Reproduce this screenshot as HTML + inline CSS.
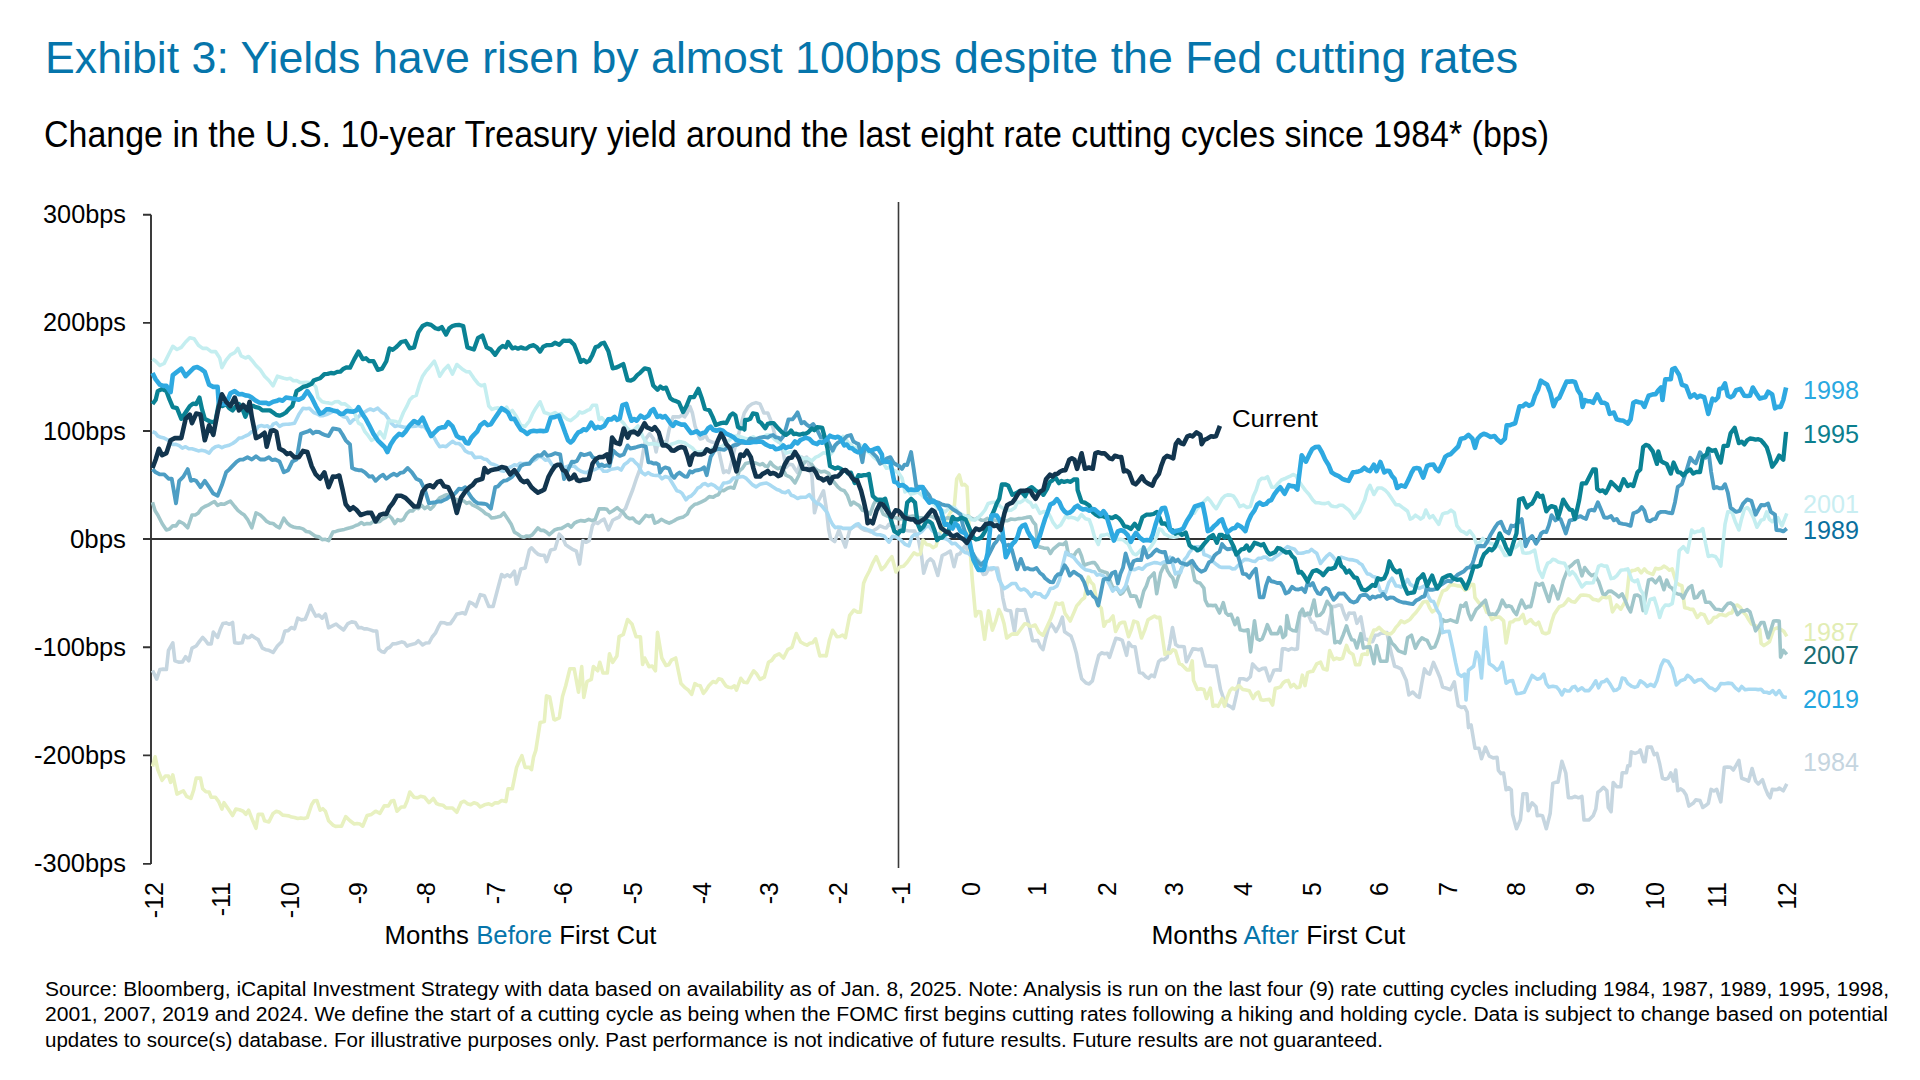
<!DOCTYPE html>
<html><head><meta charset="utf-8">
<style>
html,body{margin:0;padding:0;background:#fff;}
body{width:1920px;height:1080px;overflow:hidden;}
svg{display:block;}
text{font-family:"Liberation Sans",sans-serif;}
</style></head>
<body>
<svg width="1920" height="1080" viewBox="0 0 1920 1080">
<rect width="1920" height="1080" fill="#fff"/>
<text x="45" y="73" font-size="44.5" fill="#0675ab" textLength="1473" lengthAdjust="spacingAndGlyphs">Exhibit 3: Yields have risen by almost 100bps despite the Fed cutting rates</text>
<text x="44" y="147" font-size="37" fill="#000" textLength="1505" lengthAdjust="spacingAndGlyphs">Change in the U.S. 10-year Treasury yield around the last eight rate cutting cycles since 1984* (bps)</text>
<g font-size="25" fill="#000" text-anchor="end">
<text x="126" y="223" textLength="83" lengthAdjust="spacingAndGlyphs">300bps</text>
<text x="126" y="331" textLength="83" lengthAdjust="spacingAndGlyphs">200bps</text>
<text x="126" y="439.5" textLength="83" lengthAdjust="spacingAndGlyphs">100bps</text>
<text x="126" y="547.5" textLength="56" lengthAdjust="spacingAndGlyphs">0bps</text>
<text x="126" y="655.5" textLength="92" lengthAdjust="spacingAndGlyphs">-100bps</text>
<text x="126" y="764" textLength="92" lengthAdjust="spacingAndGlyphs">-200bps</text>
<text x="126" y="872" textLength="92" lengthAdjust="spacingAndGlyphs">-300bps</text>
</g>
<g stroke="#333" stroke-width="1.9" fill="none">
<path d="M151 214.8 V863.9 M143 214.8 H151 M143 322.9 H151 M143 431 H151 M143 647.2 H151 M143 755.4 H151 M143 863.9 H151"/>
<path d="M143 539 H1787"/>
<path d="M898.5 202 V868" stroke-width="1.6" stroke="#3a3a3a"/>
</g>
<path d="M152.5 670.5 L156.7 679.1 L159.9 669.5 L163.2 669.1 L166.4 669.5 L168.5 650.3 L172.8 642.8 L174.9 660.9 L178.6 662.1 L182.4 662.0 L185.6 656.7 L188.8 660.9 L192.0 648.1 L196.2 646.0 L199.5 641.4 L202.7 637.4 L205.3 640.2 L208.0 643.9 L211.2 643.9 L213.3 632.1 L217.6 637.4 L220.3 629.3 L222.9 623.6 L226.1 622.9 L229.3 624.3 L232.6 622.5 L234.7 642.8 L238.4 643.3 L242.2 642.8 L244.3 635.3 L247.0 637.7 L249.6 637.4 L251.8 635.3 L255.0 637.8 L258.2 639.6 L262.4 648.1 L265.7 649.7 L268.9 650.3 L273.1 652.4 L277.4 646.0 L281.7 641.7 L284.9 631.0 L288.1 630.6 L291.3 627.5 L294.5 628.9 L297.7 618.2 L301.4 619.9 L305.2 619.3 L307.8 613.0 L310.5 605.4 L313.2 611.4 L315.8 616.1 L319.0 615.0 L322.2 618.2 L325.4 614.0 L328.6 627.8 L332.9 625.7 L336.1 624.0 L339.3 626.8 L343.6 630.0 L347.9 623.6 L351.6 621.9 L355.3 622.5 L358.5 627.8 L361.4 627.6 L364.2 628.9 L367.1 628.9 L370.3 629.9 L373.5 631.0 L376.7 631.0 L378.8 649.2 L381.5 651.5 L384.2 652.4 L387.0 648.7 L389.9 647.1 L392.7 643.9 L395.9 643.8 L399.1 642.8 L401.8 641.9 L404.5 642.8 L407.1 646.1 L409.8 644.9 L412.6 644.2 L415.5 643.6 L418.3 640.7 L422.6 644.9 L425.8 643.0 L429.0 642.8 L432.2 637.0 L435.4 633.2 L438.1 627.4 L440.8 622.5 L444.0 622.7 L447.2 624.0 L450.4 623.6 L453.6 619.1 L456.8 614.0 L459.6 613.4 L462.5 612.7 L465.3 614.0 L469.6 602.2 L472.8 603.7 L476.0 606.5 L480.3 594.7 L484.5 595.8 L488.8 606.5 L493.1 606.5 L497.3 590.5 L501.6 574.5 L504.5 576.8 L507.3 574.8 L510.2 576.6 L514.4 571.2 L516.6 584.1 L520.8 569.1 L525.1 568.0 L529.4 549.9 L531.5 547.8 L534.7 551.3 L537.9 554.2 L541.1 555.3 L544.3 555.2 L546.5 561.6 L550.7 549.9 L555.0 549.1 L559.3 534.2 L562.5 537.6 L565.7 544.8 L568.9 547.0 L572.1 549.1 L576.4 551.2 L579.6 564.1 L582.8 540.6 L586.0 542.3 L589.2 540.6 L592.4 525.6 L595.0 521.9 L597.7 523.5 L600.9 520.9 L604.1 519.2 L608.4 529.9 L612.7 520.3 L615.9 518.5 L619.1 517.1 L622.3 511.8 L625.5 508.5 L628.7 500.0 L632.8 489.5 L636.7 477.8 L640.6 467.4 L643.2 451.9 L645.8 438.9 L649.7 433.7 L653.5 438.9 L656.1 451.9 L658.7 438.9 L662.6 441.5 L666.5 442.8 L669.1 429.8 L673.0 416.9 L676.2 416.8 L679.5 416.9 L682.1 415.0 L684.7 416.9 L687.3 412.7 L689.9 406.5 L692.4 413.0 L695.0 425.9 L697.6 433.3 L700.2 438.9 L702.8 438.2 L705.4 435.0 L708.0 440.1 L710.6 441.5 L713.8 442.6 L717.1 442.8 L720.3 457.9 L723.6 472.6 L726.2 470.9 L728.8 472.6 L731.3 463.0 L733.9 451.9 L736.5 441.3 L739.1 432.4 L741.7 422.1 L744.3 413.0 L748.2 406.8 L752.1 403.9 L756.0 402.6 L760.0 403.9 L763.9 413.0 L767.8 413.0 L770.4 419.4 L773.0 427.8 L775.6 437.6 L778.2 441.9 L780.7 442.8 L783.3 452.5 L785.9 467.4 L789.2 464.2 L792.4 464.8 L795.0 469.0 L797.6 472.6 L801.5 457.1 L804.1 458.9 L806.7 457.1 L809.3 466.9 L811.9 475.2 L814.5 512.8 L817.1 503.2 L819.6 498.5 L823.5 490.8 L826.1 506.9 L828.7 529.7 L830.5 538.4 L834.7 541.6 L839.0 529.9 L842.2 538.9 L845.4 547.0 L849.7 529.9 L852.5 527.5 L855.4 525.6 L858.2 525.6 L861.4 528.5 L864.6 530.3 L867.8 530.6 L871.0 532.0 L874.0 530.3 L877.0 528.5 L880.0 525.9 L883.7 527.4 L886.3 528.0 L888.9 524.4 L892.1 526.1 L895.4 526.8 L898.6 527.7 L901.8 525.7 L905.1 530.3 L908.3 530.7 L911.6 531.0 L914.8 531.1 L918.5 540.0 L921.5 555.5 L923.7 573.3 L927.4 561.5 L930.4 558.9 L933.3 561.5 L937.8 575.5 L942.2 555.5 L946.6 553.3 L950.3 551.1 L954.0 566.7 L957.0 554.8 L960.0 553.7 L962.6 549.0 L965.2 545.9 L968.2 551.8 L971.2 553.1 L974.3 560.0 L977.3 566.3 L980.3 568.0 L983.3 574.5 L985.9 574.0 L988.5 569.3 L991.6 569.6 L994.6 568.2 L997.6 568.0 L1001.5 587.4 L1002.8 597.8 L1005.4 609.5 L1008.0 610.5 L1010.6 610.8 L1014.5 631.5 L1017.1 609.5 L1020.9 610.3 L1024.8 609.5 L1028.7 623.7 L1032.6 640.6 L1035.2 640.7 L1037.8 640.6 L1040.4 646.6 L1043.0 649.7 L1045.6 638.4 L1048.2 628.9 L1050.8 623.7 L1053.4 627.1 L1056.0 631.5 L1059.2 625.7 L1062.4 617.2 L1064.6 631.8 L1067.8 634.0 L1071.0 636.1 L1073.7 643.5 L1076.4 653.2 L1079.0 667.2 L1081.7 678.8 L1086.0 683.1 L1089.2 683.9 L1092.4 680.9 L1095.6 667.5 L1098.8 655.3 L1101.6 652.8 L1104.5 653.7 L1107.3 653.2 L1109.5 657.4 L1112.7 647.6 L1115.9 638.2 L1119.1 638.9 L1122.3 640.4 L1126.6 655.3 L1128.7 642.5 L1131.9 646.5 L1135.1 646.8 L1139.4 672.4 L1142.6 673.2 L1145.8 676.7 L1148.6 678.3 L1151.5 675.0 L1154.3 676.7 L1158.6 661.7 L1161.4 659.3 L1164.3 659.7 L1167.1 657.4 L1169.8 644.0 L1172.5 627.6 L1175.7 644.6 L1178.5 646.5 L1181.4 646.5 L1184.2 646.8 L1186.4 661.7 L1189.6 655.5 L1192.8 648.9 L1195.6 649.1 L1198.5 649.7 L1201.3 648.9 L1205.6 666.0 L1209.1 665.8 L1212.7 666.4 L1216.2 666.0 L1220.5 689.5 L1224.8 702.3 L1227.6 705.2 L1230.5 706.6 L1233.3 708.7 L1236.5 694.7 L1239.7 678.8 L1243.3 678.8 L1246.9 680.0 L1250.4 676.7 L1252.6 663.9 L1255.8 667.5 L1259.0 670.3 L1262.2 668.6 L1265.4 668.1 L1269.6 680.9 L1273.9 670.3 L1277.1 669.8 L1280.3 670.3 L1282.4 648.9 L1285.4 648.9 L1288.4 650.1 L1291.4 648.5 L1294.4 649.4 L1297.4 648.9 L1299.9 613.0 L1303.7 615.4 L1307.6 613.0 L1311.5 622.0 L1314.1 622.6 L1316.7 629.8 L1320.2 629.7 L1323.6 632.7 L1327.1 633.7 L1329.7 620.6 L1332.3 606.5 L1335.3 606.4 L1338.3 605.1 L1341.3 605.2 L1343.9 613.2 L1346.5 619.4 L1349.1 613.0 L1351.7 613.3 L1354.3 613.0 L1356.9 623.3 L1360.8 616.9 L1364.7 638.9 L1367.3 639.6 L1370.0 641.7 L1372.6 641.6 L1375.2 635.2 L1378.1 635.0 L1381.0 633.2 L1383.9 633.1 L1386.9 632.6 L1390.7 650.8 L1394.6 666.3 L1397.9 667.3 L1401.1 668.9 L1403.7 674.7 L1406.3 680.6 L1408.9 694.9 L1412.8 692.0 L1416.7 696.1 L1419.3 697.4 L1421.9 682.5 L1424.5 668.9 L1427.1 672.8 L1429.6 674.1 L1433.5 662.4 L1437.4 671.5 L1440.0 677.8 L1442.6 687.1 L1446.5 688.3 L1450.4 689.7 L1454.3 681.9 L1455.6 690.0 L1458.2 705.6 L1461.4 707.4 L1464.7 706.9 L1467.2 712.0 L1468.5 727.6 L1471.1 725.0 L1475.0 748.3 L1478.9 748.3 L1481.5 758.7 L1485.4 747.1 L1489.3 756.1 L1493.2 757.9 L1497.1 757.4 L1498.4 770.4 L1501.0 773.6 L1503.6 773.0 L1506.1 789.8 L1508.7 787.6 L1511.3 789.8 L1512.6 814.5 L1516.5 828.7 L1520.4 819.7 L1523.0 793.7 L1526.9 793.7 L1528.2 810.6 L1532.1 802.8 L1536.0 806.7 L1537.3 815.8 L1539.9 815.3 L1542.5 815.8 L1546.3 828.7 L1550.2 813.2 L1552.8 783.4 L1555.4 782.3 L1558.0 782.1 L1561.9 761.3 L1565.8 773.0 L1568.4 797.6 L1571.7 797.8 L1575.0 796.4 L1578.5 797.8 L1581.9 796.4 L1584.0 820.0 L1588.9 820.0 L1593.1 815.8 L1595.8 808.9 L1597.9 792.2 L1600.0 790.8 L1603.5 787.3 L1606.9 790.8 L1608.3 807.5 L1611.1 811.7 L1613.2 782.5 L1616.7 786.7 L1620.8 786.7 L1622.2 772.8 L1626.4 772.8 L1627.8 765.8 L1629.9 765.8 L1631.2 751.9 L1635.1 753.4 L1638.9 751.9 L1640.3 749.9 L1643.8 761.7 L1645.1 761.7 L1647.2 747.1 L1651.4 747.1 L1654.2 754.7 L1656.9 753.3 L1659.7 764.0 L1662.5 778.3 L1665.3 779.2 L1668.1 778.3 L1670.8 772.8 L1673.6 781.1 L1675.7 770.0 L1677.8 790.8 L1680.6 788.9 L1683.3 790.8 L1686.1 795.0 L1688.9 806.1 L1693.1 803.3 L1695.8 799.9 L1700.0 800.6 L1702.8 807.5 L1705.6 805.6 L1708.3 803.3 L1711.1 789.4 L1713.9 791.0 L1716.7 789.4 L1720.8 801.9 L1724.3 767.2 L1727.4 767.0 L1730.6 767.2 L1733.3 770.0 L1736.1 765.4 L1738.9 760.3 L1741.7 778.3 L1745.8 779.7 L1748.6 781.1 L1752.1 768.6 L1755.6 781.1 L1758.3 783.9 L1762.5 779.7 L1765.3 788.4 L1768.1 795.0 L1770.1 797.8 L1772.2 789.4 L1775.0 789.6 L1777.8 789.4 L1779.2 788.1 L1783.3 790.8 L1786.8 783.9" fill="none" stroke="#c6d6e0" stroke-width="3.6" stroke-linejoin="round" stroke-linecap="butt"/>
<path d="M152.5 766.4 L155.2 756.8 L157.8 769.6 L162.1 780.3 L165.3 776.0 L168.5 776.0 L170.6 782.4 L172.8 774.9 L177.0 794.1 L180.2 792.4 L183.4 790.9 L186.6 796.3 L190.9 798.4 L193.6 790.3 L196.2 778.1 L200.5 778.1 L202.7 788.8 L205.9 791.8 L209.1 792.0 L211.2 797.3 L215.5 797.3 L218.7 801.6 L221.9 809.1 L224.0 802.7 L228.3 809.1 L232.6 815.5 L235.8 809.1 L239.5 809.8 L243.2 811.2 L245.9 814.3 L248.6 810.2 L252.8 820.8 L256.0 828.3 L258.2 814.4 L262.4 814.4 L264.6 820.8 L268.9 821.9 L273.1 813.4 L276.3 811.3 L279.5 812.3 L282.7 815.1 L285.9 815.5 L288.8 815.9 L291.6 817.1 L294.5 817.6 L297.7 818.5 L300.9 817.9 L304.1 818.5 L307.3 817.6 L311.6 804.8 L314.2 800.7 L316.9 800.5 L320.1 810.2 L322.8 808.7 L325.4 811.2 L328.6 820.8 L332.9 825.1 L335.6 826.4 L338.3 826.2 L341.5 826.2 L345.7 816.6 L350.0 820.8 L354.3 824.0 L357.1 823.5 L360.0 824.1 L362.8 826.2 L367.1 815.5 L371.4 814.4 L375.6 811.2 L379.9 813.4 L384.2 805.9 L388.4 805.9 L391.1 801.3 L393.8 800.5 L397.0 811.2 L401.2 807.0 L404.5 807.0 L407.1 801.1 L409.8 792.0 L414.1 797.3 L417.3 797.8 L420.5 796.3 L424.7 797.3 L429.0 802.7 L433.3 798.4 L436.5 803.5 L439.7 804.8 L442.9 805.2 L446.1 808.0 L449.3 808.0 L452.5 808.0 L456.8 812.3 L461.0 802.7 L464.2 801.2 L467.4 803.7 L470.7 804.7 L473.9 802.7 L477.1 803.7 L480.3 807.0 L484.5 804.8 L488.8 803.8 L492.0 805.2 L495.2 802.7 L498.4 802.9 L501.6 800.5 L505.9 801.6 L508.0 788.8 L512.3 788.8 L516.6 767.4 L519.2 761.3 L521.9 755.7 L525.1 767.4 L529.4 767.4 L531.5 769.6 L533.6 756.8 L535.8 750.4 L540.1 722.6 L544.3 721.5 L546.5 695.9 L549.7 697.0 L553.9 719.4 L555.0 719.9 L559.3 717.8 L562.5 696.5 L565.7 685.8 L569.9 668.7 L574.2 668.7 L578.5 692.2 L581.7 666.6 L583.8 697.5 L587.0 681.5 L591.3 679.4 L593.4 666.6 L597.7 670.8 L599.8 662.3 L603.0 673.0 L607.3 673.0 L609.5 653.8 L612.7 662.3 L616.9 655.9 L619.1 636.7 L623.3 634.5 L627.6 619.6 L631.9 623.9 L636.1 636.7 L640.4 636.7 L642.6 664.4 L644.7 658.0 L649.0 666.6 L652.2 666.1 L655.4 670.8 L657.5 632.4 L661.8 658.0 L666.0 665.5 L668.7 664.7 L671.4 660.2 L675.7 658.0 L678.3 670.7 L681.0 683.6 L685.3 687.9 L688.5 690.3 L691.7 694.3 L694.9 683.6 L697.5 685.2 L700.2 685.8 L703.4 693.3 L706.1 690.1 L708.8 685.8 L713.0 681.5 L715.9 682.7 L718.7 678.8 L721.6 679.4 L725.8 685.8 L728.7 687.3 L731.5 687.7 L734.4 685.8 L736.5 690.1 L740.8 678.3 L744.0 682.3 L747.2 682.6 L750.4 676.5 L753.6 670.8 L756.8 674.1 L760.0 679.4 L764.3 677.2 L768.5 662.3 L771.7 660.4 L774.9 655.9 L779.2 653.8 L783.5 658.0 L787.8 649.5 L792.0 647.3 L796.3 633.5 L800.6 642.0 L803.8 643.8 L807.0 645.2 L809.8 643.2 L812.7 642.8 L815.5 638.8 L819.8 655.9 L823.0 655.5 L826.2 655.9 L829.4 640.1 L832.6 630.3 L836.9 636.7 L839.7 636.5 L842.6 635.0 L845.4 637.7 L849.7 615.3 L854.0 610.0 L857.2 612.1 L860.4 612.1 L863.6 583.3 L866.0 577.5 L869.4 571.0 L872.9 562.8 L876.3 556.7 L878.9 563.2 L881.5 569.7 L885.0 566.4 L888.4 561.1 L891.9 556.7 L896.0 572.0 L899.7 567.0 L903.5 566.2 L907.4 562.0 L910.7 557.3 L914.0 552.8 L917.2 554.8 L920.4 554.0 L923.0 540.0 L926.5 544.4 L930.0 545.0 L933.0 547.6 L936.0 546.0 L938.5 537.1 L941.0 530.0 L944.4 525.0 L947.7 517.8 L950.9 511.5 L954.0 510.0 L956.7 479.0 L959.3 475.0 L962.0 485.0 L964.5 484.4 L967.0 486.7 L968.4 512.6 L969.7 543.8 L972.3 580.0 L975.6 616.0 L978.2 611.5 L980.7 612.1 L984.6 639.3 L988.5 610.8 L992.4 630.2 L995.7 621.2 L998.9 609.5 L1001.5 615.0 L1004.1 623.7 L1006.7 638.0 L1009.3 636.0 L1011.9 634.1 L1014.5 633.9 L1017.1 634.1 L1020.9 628.9 L1024.8 623.7 L1027.4 624.3 L1030.0 626.3 L1032.6 626.0 L1035.2 625.0 L1039.1 632.5 L1043.0 635.4 L1046.9 627.0 L1050.8 618.5 L1053.4 611.5 L1056.0 603.0 L1059.2 604.3 L1062.4 603.0 L1065.0 613.4 L1067.6 617.0 L1070.2 621.1 L1074.1 612.1 L1076.7 605.9 L1079.3 603.0 L1081.9 599.7 L1084.5 597.8 L1088.4 577.1 L1091.0 582.3 L1093.6 584.8 L1097.4 604.3 L1101.3 608.2 L1103.9 626.3 L1106.5 621.6 L1109.1 621.1 L1113.0 616.0 L1115.6 631.5 L1119.5 623.7 L1122.1 622.3 L1124.7 622.4 L1128.6 636.7 L1131.2 630.2 L1133.8 621.1 L1137.6 622.4 L1141.5 638.0 L1144.8 629.9 L1148.0 619.8 L1151.3 617.9 L1154.5 616.0 L1157.1 617.6 L1159.7 617.2 L1162.3 636.1 L1165.0 654.5 L1167.6 652.3 L1170.2 653.2 L1172.8 649.8 L1175.4 650.6 L1179.3 663.5 L1181.9 664.7 L1184.4 667.4 L1187.0 669.9 L1189.6 670.0 L1192.2 660.9 L1193.5 680.4 L1197.4 689.5 L1200.7 688.7 L1203.9 689.5 L1206.5 698.5 L1210.4 688.2 L1213.0 706.3 L1215.6 705.2 L1218.2 706.3 L1222.1 698.5 L1224.6 706.3 L1227.2 697.5 L1229.8 690.8 L1232.4 688.1 L1235.0 689.5 L1238.9 685.6 L1242.8 689.5 L1246.0 690.0 L1249.3 690.8 L1253.2 698.5 L1255.8 693.8 L1258.4 692.1 L1261.0 699.8 L1263.5 700.3 L1266.1 699.8 L1269.4 699.4 L1272.6 705.0 L1275.2 688.2 L1277.8 687.9 L1280.4 686.9 L1283.0 683.0 L1285.6 680.9 L1288.2 680.4 L1290.8 686.9 L1293.8 684.4 L1296.8 687.8 L1299.9 686.9 L1302.4 675.2 L1305.0 685.6 L1307.6 672.6 L1310.2 671.6 L1312.8 671.3 L1316.7 663.9 L1320.6 662.2 L1323.2 668.7 L1327.1 670.0 L1329.7 650.6 L1333.6 659.6 L1336.6 658.1 L1339.6 659.2 L1342.6 658.3 L1346.5 645.4 L1349.1 651.9 L1353.0 654.5 L1355.6 664.8 L1359.5 664.8 L1362.1 654.5 L1364.7 653.9 L1367.3 654.5 L1370.0 639.1 L1373.9 630.0 L1376.5 629.7 L1379.1 627.4 L1383.0 631.3 L1386.9 633.6 L1390.7 633.9 L1393.3 631.5 L1395.9 627.4 L1398.5 624.6 L1401.1 620.9 L1404.4 622.7 L1407.6 620.9 L1410.2 619.2 L1412.8 615.8 L1416.0 612.5 L1419.3 608.0 L1423.2 602.0 L1427.1 601.5 L1429.6 607.8 L1432.2 611.9 L1436.1 609.3 L1440.0 597.6 L1442.6 591.1 L1446.5 589.6 L1450.4 584.6 L1454.3 584.9 L1458.2 585.9 L1461.6 586.2 L1465.1 590.2 L1468.5 588.5 L1471.1 584.3 L1473.7 584.6 L1475.0 597.6 L1478.9 602.8 L1481.5 604.7 L1484.1 605.4 L1486.7 612.4 L1489.3 613.2 L1491.9 619.6 L1495.8 617.1 L1499.7 617.1 L1503.6 620.9 L1506.1 643.0 L1510.0 622.2 L1512.6 621.8 L1515.2 619.6 L1519.1 619.5 L1523.0 614.5 L1525.6 623.5 L1528.2 621.4 L1530.8 619.6 L1533.4 623.0 L1536.0 624.8 L1538.6 622.2 L1542.5 632.6 L1545.7 633.8 L1548.9 632.6 L1551.5 622.4 L1554.1 614.5 L1556.7 610.5 L1559.3 606.7 L1563.2 605.4 L1565.8 602.5 L1568.4 598.9 L1571.7 601.6 L1575.0 602.2 L1577.8 598.7 L1580.6 595.3 L1583.3 595.0 L1586.1 595.3 L1589.6 596.0 L1593.1 599.4 L1595.8 599.7 L1598.6 600.8 L1602.8 596.7 L1606.2 597.8 L1609.7 596.7 L1612.5 611.9 L1616.7 605.0 L1620.8 609.2 L1623.6 604.4 L1626.4 599.4 L1629.2 573.1 L1631.9 570.6 L1634.7 570.3 L1638.0 568.7 L1641.2 572.8 L1644.4 568.9 L1647.2 572.2 L1650.0 573.4 L1652.8 574.4 L1655.6 568.3 L1658.3 568.9 L1661.1 568.3 L1663.9 566.1 L1666.7 567.7 L1669.4 570.2 L1672.2 568.9 L1676.4 582.8 L1679.2 584.7 L1681.9 585.6 L1684.7 607.8 L1687.5 608.2 L1690.3 609.4 L1693.1 609.2 L1697.2 617.5 L1700.7 613.6 L1704.2 614.7 L1708.3 623.1 L1711.1 621.6 L1713.9 617.5 L1716.7 617.0 L1719.4 614.7 L1722.2 614.7 L1725.7 615.8 L1729.2 613.3 L1731.9 612.9 L1734.7 606.0 L1737.5 605.0 L1740.3 607.4 L1743.1 611.9 L1745.8 614.7 L1748.6 619.5 L1751.4 623.9 L1754.2 625.2 L1756.9 626.3 L1759.7 629.4 L1761.1 643.3 L1763.9 645.6 L1766.7 643.8 L1769.4 641.9 L1773.6 629.4 L1777.1 627.9 L1780.6 629.4 L1783.7 631.2 L1786.8 636.4" fill="none" stroke="#e8f1c0" stroke-width="3.6" stroke-linejoin="round" stroke-linecap="butt"/>
<path d="M152.5 502.2 L155.1 510.8 L157.8 515.0 L162.1 523.5 L166.4 529.9 L169.6 529.1 L172.8 525.7 L176.0 525.9 L179.2 521.4 L183.4 523.5 L187.7 527.8 L192.0 515.0 L195.2 515.0 L198.4 512.9 L201.6 508.5 L204.8 506.5 L208.0 505.2 L211.2 503.3 L214.4 501.5 L217.6 505.4 L220.8 503.9 L224.0 504.3 L227.2 502.6 L230.4 501.1 L234.7 506.5 L237.9 510.3 L241.1 512.9 L244.3 515.1 L247.5 519.3 L251.8 527.8 L256.0 512.9 L260.3 515.0 L263.5 518.0 L266.7 521.4 L269.9 523.1 L273.1 523.5 L276.3 526.2 L279.5 527.8 L283.8 518.2 L287.0 522.8 L290.2 525.7 L293.4 527.0 L296.6 527.8 L299.8 527.9 L303.0 528.9 L306.2 531.5 L309.4 532.1 L312.6 534.3 L315.8 536.4 L319.0 536.9 L322.2 539.6 L325.4 539.3 L328.6 540.6 L332.9 532.1 L335.8 531.4 L338.6 530.5 L341.5 529.9 L344.3 529.4 L347.2 528.5 L350.0 527.8 L352.8 527.0 L355.7 525.5 L358.5 524.6 L361.4 522.6 L364.2 524.4 L367.1 523.5 L370.3 523.8 L373.5 521.4 L376.7 522.0 L379.9 521.4 L382.7 519.0 L385.6 517.7 L388.4 515.0 L391.6 518.0 L394.8 523.5 L397.7 519.7 L400.5 520.8 L403.4 519.3 L406.6 513.8 L409.8 510.7 L412.6 511.0 L415.5 507.9 L418.3 508.6 L421.5 505.2 L424.7 508.6 L427.6 506.5 L430.4 509.2 L433.3 506.5 L436.5 501.7 L439.7 497.9 L444.0 495.8 L446.8 494.7 L449.7 496.2 L452.5 497.9 L455.3 499.3 L458.2 500.0 L461.0 500.1 L463.9 501.0 L466.7 503.4 L469.6 502.2 L472.8 505.2 L476.0 506.5 L479.2 508.6 L482.4 510.7 L485.6 513.6 L488.8 515.0 L491.6 517.9 L494.5 517.7 L497.3 517.1 L500.5 516.3 L503.8 512.9 L508.0 519.3 L511.2 524.3 L514.4 532.1 L517.6 534.0 L520.8 536.4 L523.7 537.3 L526.5 536.0 L529.4 536.4 L532.2 534.9 L535.1 531.4 L537.9 527.8 L540.8 530.4 L543.6 530.4 L546.5 532.1 L549.3 534.6 L552.2 532.1 L555.0 529.7 L558.2 528.7 L561.5 528.4 L564.7 526.5 L568.0 524.5 L571.2 527.2 L574.4 523.2 L577.7 521.4 L580.9 520.6 L584.8 521.1 L588.7 519.3 L592.0 520.6 L595.2 519.3 L599.1 508.9 L601.7 508.9 L604.3 508.9 L606.9 509.3 L609.5 512.8 L613.3 510.5 L617.2 507.6 L619.8 510.0 L622.4 511.5 L626.3 516.7 L629.6 518.8 L632.8 518.0 L636.0 521.6 L639.3 523.2 L642.5 519.3 L645.8 515.4 L649.0 516.5 L652.2 515.4 L654.8 523.2 L658.1 521.9 L661.3 519.3 L665.2 521.5 L669.1 523.2 L671.7 522.0 L674.3 520.6 L676.9 519.0 L679.5 518.0 L683.4 516.9 L687.3 514.1 L689.9 508.8 L692.4 506.3 L695.0 504.2 L697.6 503.7 L701.5 501.8 L705.4 499.8 L709.3 496.6 L713.2 497.2 L715.8 495.4 L718.4 494.7 L721.0 490.1 L723.6 490.8 L727.5 488.2 L730.7 487.3 L733.9 488.2 L736.5 480.5 L739.1 471.3 L742.4 468.2 L745.6 463.5 L748.8 462.8 L752.1 462.2 L756.0 463.2 L760.0 464.8 L762.6 463.6 L765.2 466.1 L767.8 466.6 L770.4 462.2 L773.0 465.5 L775.6 467.4 L778.2 468.8 L780.7 467.4 L783.3 470.2 L785.9 475.2 L788.5 476.3 L791.1 477.8 L795.0 483.0 L798.9 475.2 L802.8 464.8 L806.7 459.6 L809.3 459.9 L811.9 464.8 L814.5 468.4 L817.1 470.0 L820.9 471.9 L824.8 471.3 L828.7 473.4 L832.6 480.4 L835.2 483.6 L837.8 486.9 L841.0 489.6 L844.3 490.8 L847.5 495.6 L850.8 505.0 L853.4 502.0 L856.0 503.7 L859.2 505.6 L862.4 510.2 L866.3 511.3 L870.2 514.1 L873.5 504.5 L876.7 498.5 L879.9 506.4 L883.2 514.1 L886.4 515.7 L889.7 516.7 L892.9 517.6 L896.2 517.8 L899.4 519.0 L902.7 518.7 L906.0 515.6 L909.2 516.7 L912.5 516.1 L915.8 516.2 L919.0 517.6 L922.3 517.8 L925.5 518.6 L928.8 516.0 L932.1 516.6 L935.3 518.2 L938.6 518.1 L941.8 518.1 L945.1 518.5 L948.4 517.7 L951.6 519.8 L954.9 519.4 L958.2 519.0 L961.4 518.3 L964.7 519.1 L967.9 515.9 L971.2 518.2 L974.5 519.7 L977.7 517.8 L981.0 520.1 L984.2 520.2 L987.5 518.3 L990.8 519.9 L994.0 519.9 L997.3 521.0 L1000.5 521.3 L1003.8 520.6 L1007.1 520.8 L1011.0 519.0 L1014.9 519.5 L1018.7 518.6 L1022.6 518.2 L1026.5 517.4 L1030.4 516.9 L1033.0 521.7 L1035.6 524.7 L1037.8 545.9 L1040.0 547.1 L1043.9 548.1 L1047.8 548.3 L1050.4 553.5 L1053.0 549.4 L1055.6 547.1 L1059.4 544.0 L1063.3 544.5 L1065.9 541.9 L1068.5 554.8 L1071.1 555.0 L1073.7 556.1 L1076.3 551.9 L1078.9 549.6 L1081.5 556.0 L1084.1 565.2 L1088.0 563.8 L1091.9 562.6 L1094.5 562.6 L1097.1 565.9 L1099.6 570.4 L1103.5 571.8 L1107.4 573.0 L1110.0 580.8 L1112.6 587.2 L1115.2 588.0 L1117.8 589.8 L1120.4 594.2 L1123.0 592.4 L1126.9 586.0 L1130.8 596.3 L1133.4 595.9 L1136.0 596.3 L1139.8 606.7 L1143.7 591.1 L1146.3 586.1 L1148.9 578.2 L1151.5 575.7 L1154.1 573.0 L1156.7 593.7 L1160.6 573.0 L1165.0 563.5 L1167.6 570.8 L1170.2 575.2 L1172.8 578.0 L1175.4 586.9 L1178.0 577.8 L1181.9 567.4 L1184.9 564.3 L1187.9 563.4 L1190.9 560.9 L1194.8 580.4 L1197.4 582.5 L1200.0 583.0 L1203.9 588.2 L1205.2 600.0 L1207.8 605.6 L1210.4 605.2 L1213.0 605.6 L1215.6 605.2 L1219.5 613.0 L1223.3 602.6 L1225.9 613.0 L1228.5 615.3 L1231.1 614.3 L1235.0 624.6 L1237.6 618.2 L1240.2 629.8 L1244.1 630.8 L1248.0 629.8 L1250.6 651.9 L1254.5 620.7 L1257.1 638.9 L1259.7 640.1 L1262.2 638.9 L1264.8 632.4 L1267.4 624.6 L1271.3 633.7 L1274.6 633.5 L1277.8 633.7 L1280.4 627.2 L1283.0 637.6 L1285.6 635.0 L1286.9 615.6 L1289.5 628.5 L1292.7 630.5 L1296.0 631.1 L1299.9 613.0 L1302.4 609.1 L1305.0 615.6 L1307.6 613.5 L1310.2 614.3 L1314.1 600.0 L1316.7 615.6 L1319.9 615.2 L1323.2 611.7 L1327.1 601.3 L1331.0 606.5 L1334.9 642.8 L1337.5 641.5 L1340.0 642.8 L1343.3 634.7 L1346.5 625.9 L1349.1 633.7 L1351.7 639.7 L1354.3 640.2 L1356.9 648.0 L1360.8 633.7 L1363.4 648.0 L1366.7 647.1 L1370.0 646.9 L1373.9 663.7 L1376.5 645.6 L1380.4 661.1 L1383.6 661.2 L1386.9 661.1 L1389.4 637.8 L1392.0 643.2 L1394.6 645.6 L1398.5 650.8 L1401.8 652.1 L1405.0 653.4 L1407.6 637.8 L1411.5 635.2 L1415.4 648.2 L1418.6 641.9 L1421.9 637.8 L1424.5 639.4 L1427.1 640.4 L1430.9 648.2 L1434.8 646.9 L1437.4 640.5 L1440.0 632.6 L1442.6 619.6 L1445.2 621.2 L1447.8 620.9 L1450.4 619.9 L1453.0 620.9 L1456.9 622.2 L1460.8 605.4 L1463.4 606.4 L1466.0 602.8 L1468.5 613.4 L1471.1 619.6 L1473.7 614.5 L1476.3 609.3 L1478.9 607.0 L1481.5 604.1 L1485.4 600.2 L1489.3 614.5 L1492.5 613.9 L1495.8 614.5 L1499.0 609.2 L1502.3 600.2 L1506.1 606.7 L1508.7 605.8 L1511.3 606.7 L1513.9 611.4 L1516.5 614.5 L1519.1 606.7 L1521.7 600.2 L1525.6 608.0 L1528.2 606.4 L1530.8 606.7 L1533.4 595.9 L1536.0 583.3 L1539.2 585.1 L1542.5 583.3 L1545.7 592.4 L1548.9 601.5 L1552.8 585.9 L1555.4 591.5 L1558.0 598.9 L1560.6 590.9 L1563.2 580.7 L1565.8 574.2 L1568.4 567.8 L1571.7 565.3 L1575.0 561.9 L1577.8 560.6 L1581.9 575.8 L1584.7 567.5 L1588.9 573.1 L1591.7 575.7 L1594.4 574.4 L1598.6 581.4 L1602.8 593.9 L1605.6 594.4 L1608.3 591.4 L1611.1 591.1 L1615.3 593.9 L1618.8 596.9 L1622.2 593.9 L1625.0 599.9 L1627.8 606.9 L1630.6 611.9 L1634.7 595.3 L1637.5 595.1 L1640.3 596.7 L1643.1 610.6 L1645.8 595.2 L1648.6 580.0 L1652.1 579.1 L1655.6 582.8 L1659.7 577.2 L1663.9 589.7 L1666.7 580.0 L1669.4 586.5 L1672.2 588.3 L1675.0 592.9 L1677.8 593.9 L1680.6 594.4 L1683.3 598.1 L1686.1 591.9 L1688.9 587.6 L1691.7 585.6 L1694.4 598.1 L1697.2 597.3 L1700.0 592.8 L1702.8 591.1 L1705.6 602.2 L1709.7 602.2 L1712.5 605.6 L1715.3 609.2 L1718.8 609.5 L1722.2 610.6 L1725.0 606.9 L1727.8 603.6 L1730.6 602.9 L1733.3 605.0 L1737.5 614.7 L1741.7 610.6 L1744.4 611.0 L1747.2 609.6 L1750.0 611.9 L1752.8 621.3 L1755.6 630.8 L1758.3 627.1 L1761.1 622.5 L1763.9 622.5 L1768.1 637.8 L1770.8 630.1 L1773.6 621.1 L1776.4 620.8 L1779.2 621.1 L1780.6 657.2 L1783.3 650.3 L1786.8 654.4" fill="none" stroke="#a0c6ca" stroke-width="3.6" stroke-linejoin="round" stroke-linecap="butt"/>
<path d="M152.5 431.7 L155.1 432.7 L157.8 436.0 L161.0 437.3 L164.2 438.1 L168.5 440.3 L172.8 444.5 L176.0 444.4 L179.2 445.6 L182.4 448.2 L185.6 446.7 L188.8 448.7 L192.0 448.8 L195.2 449.7 L198.4 450.9 L201.6 450.3 L204.8 450.9 L209.1 453.1 L212.3 449.0 L215.5 446.7 L218.7 446.0 L221.9 447.7 L225.1 446.2 L228.3 445.6 L232.6 443.5 L235.8 441.2 L239.0 438.1 L242.2 437.7 L245.4 436.0 L248.6 434.6 L251.8 431.7 L255.0 431.8 L258.2 426.4 L261.4 425.5 L264.6 426.4 L267.4 425.7 L270.3 428.6 L273.1 424.2 L276.3 422.9 L279.5 426.4 L282.7 424.6 L285.9 424.2 L288.8 424.1 L291.6 423.7 L294.5 423.2 L298.8 414.6 L303.0 408.2 L306.2 408.8 L309.4 408.2 L313.7 412.5 L316.9 413.8 L320.1 415.7 L323.3 415.6 L326.5 414.6 L329.7 413.1 L332.9 411.4 L337.2 410.4 L340.4 414.6 L343.6 416.8 L346.8 417.5 L350.0 423.2 L353.2 419.9 L356.4 418.9 L360.7 414.6 L363.9 412.5 L367.1 410.4 L370.3 409.0 L373.5 410.4 L377.8 408.2 L382.0 412.5 L385.2 414.3 L388.4 418.9 L391.6 423.5 L394.8 426.4 L398.0 425.5 L401.2 426.4 L404.1 427.2 L406.9 427.3 L409.8 426.4 L412.6 426.4 L415.5 426.3 L418.3 425.3 L421.2 426.6 L424.0 426.3 L426.9 429.6 L430.1 432.7 L433.3 436.0 L436.5 441.9 L439.7 446.7 L442.9 446.0 L446.1 446.7 L449.3 443.9 L452.5 441.3 L455.7 443.4 L458.9 443.5 L462.1 446.1 L465.3 450.9 L468.5 452.8 L471.7 453.1 L474.9 457.6 L478.1 457.3 L481.0 457.3 L483.8 459.0 L486.7 459.5 L490.9 463.8 L494.1 464.6 L497.3 465.9 L500.5 470.6 L503.8 471.2 L508.0 468.0 L511.2 466.8 L514.4 464.8 L517.3 465.6 L520.1 463.2 L523.0 463.8 L526.2 463.2 L529.4 462.7 L532.6 461.1 L535.8 459.5 L539.0 456.1 L542.2 457.3 L545.4 460.3 L548.6 459.5 L551.8 464.6 L555.0 467.4 L558.2 464.8 L561.5 466.8 L564.7 467.4 L568.0 466.1 L571.2 466.0 L574.4 466.1 L577.7 469.3 L580.9 471.3 L584.2 472.4 L587.4 472.6 L590.7 469.4 L593.9 470.0 L597.1 468.4 L600.4 467.4 L603.6 471.3 L606.9 471.3 L610.8 469.3 L614.6 468.7 L617.9 468.0 L621.1 470.0 L624.4 464.4 L627.6 462.2 L630.2 459.4 L632.8 459.6 L635.4 462.7 L638.0 464.8 L641.9 472.6 L645.1 474.8 L648.4 472.6 L651.0 474.5 L653.5 475.2 L656.1 475.5 L658.7 475.2 L662.0 478.8 L665.2 476.5 L669.1 477.8 L673.0 484.3 L676.9 490.8 L679.5 491.4 L682.1 493.4 L686.0 499.8 L688.6 497.0 L691.1 496.0 L694.4 492.7 L697.6 488.2 L700.2 486.9 L702.8 484.3 L705.4 483.6 L708.0 485.6 L711.2 484.1 L714.5 485.6 L717.1 487.9 L719.7 489.5 L723.6 483.0 L726.8 482.7 L730.0 481.7 L733.3 478.0 L736.5 477.8 L739.8 476.9 L743.0 476.5 L746.3 478.4 L749.5 481.7 L752.7 484.9 L756.0 486.9 L760.0 484.3 L763.2 483.5 L766.5 483.0 L769.7 484.8 L773.0 486.9 L776.9 489.5 L779.4 490.3 L782.0 492.1 L785.3 492.8 L788.5 490.8 L791.1 495.2 L793.7 496.0 L797.6 498.5 L800.2 497.4 L802.8 497.2 L806.0 497.1 L809.3 494.7 L813.2 499.8 L817.1 503.7 L819.6 504.0 L822.2 506.3 L824.8 509.7 L827.4 512.8 L830.0 519.6 L832.6 524.5 L835.2 527.7 L837.8 527.1 L840.4 527.2 L843.0 528.4 L846.9 528.3 L850.8 528.4 L853.4 526.7 L856.0 524.5 L858.5 523.8 L861.1 527.1 L864.4 528.4 L867.6 529.7 L870.9 530.7 L874.1 533.6 L877.1 534.7 L880.0 534.8 L884.4 536.3 L888.9 542.2 L892.6 536.3 L896.3 537.0 L900.7 540.0 L905.2 544.4 L908.9 545.9 L911.8 537.0 L914.4 534.5 L917.0 534.8 L921.5 531.8 L925.9 526.7 L929.2 526.2 L932.4 530.8 L935.7 533.2 L939.0 534.2 L942.2 538.1 L945.5 538.7 L948.7 540.3 L952.0 543.8 L955.3 543.2 L958.5 546.4 L961.8 549.4 L965.0 552.6 L968.3 553.3 L971.6 556.0 L974.8 556.8 L978.1 560.1 L981.3 563.9 L984.6 563.0 L987.9 569.0 L991.1 568.0 L993.7 567.8 L996.3 569.3 L998.9 579.6 L1001.5 584.2 L1004.1 588.7 L1008.0 586.4 L1011.9 583.5 L1015.8 583.5 L1018.3 588.1 L1020.9 590.0 L1024.2 589.1 L1027.4 591.3 L1031.3 596.5 L1034.6 592.5 L1037.8 593.9 L1040.0 593.7 L1042.6 596.5 L1045.2 597.6 L1047.8 594.1 L1050.4 588.5 L1053.6 588.1 L1056.9 586.0 L1059.4 580.3 L1062.0 567.8 L1065.9 552.2 L1069.8 555.1 L1073.7 557.4 L1077.6 562.3 L1081.5 566.5 L1085.4 569.7 L1089.3 570.4 L1091.9 571.5 L1094.5 571.7 L1097.1 575.1 L1099.6 574.3 L1103.5 575.9 L1107.4 580.8 L1110.0 585.5 L1112.6 591.1 L1116.5 587.3 L1120.4 592.4 L1123.0 590.2 L1125.6 586.0 L1128.2 577.0 L1130.8 569.1 L1134.7 569.6 L1138.5 567.8 L1142.4 569.3 L1146.3 565.2 L1150.2 563.9 L1154.1 562.6 L1157.3 562.9 L1160.6 563.9 L1163.8 562.0 L1167.1 561.3 L1170.2 557.1 L1172.8 564.4 L1175.4 573.9 L1178.0 572.4 L1180.6 572.6 L1184.4 559.6 L1187.0 556.6 L1189.6 551.9 L1192.2 549.3 L1194.8 546.7 L1198.7 546.8 L1202.6 546.7 L1203.9 554.5 L1207.1 555.5 L1210.4 557.1 L1213.6 562.1 L1216.9 564.8 L1219.5 566.8 L1222.1 567.4 L1225.9 567.2 L1229.8 567.4 L1232.4 568.9 L1235.0 568.7 L1238.3 565.3 L1241.5 562.2 L1244.7 559.4 L1248.0 559.6 L1251.9 560.9 L1255.1 561.5 L1258.4 558.3 L1261.0 558.3 L1263.5 557.1 L1266.1 557.1 L1268.7 559.6 L1272.0 559.8 L1275.2 557.1 L1279.1 554.5 L1281.7 552.3 L1284.3 549.3 L1287.5 546.6 L1290.8 548.0 L1294.7 549.3 L1297.9 553.3 L1301.1 553.2 L1303.7 552.9 L1306.3 551.9 L1308.9 551.7 L1311.5 549.3 L1314.1 551.5 L1316.7 553.2 L1320.6 563.5 L1323.8 559.5 L1327.1 555.8 L1329.7 553.7 L1332.3 555.8 L1336.2 560.9 L1338.8 560.3 L1341.3 557.1 L1345.2 558.4 L1349.1 559.6 L1353.0 559.9 L1356.9 560.9 L1359.5 563.3 L1362.1 564.8 L1364.7 569.5 L1367.3 573.9 L1370.0 574.3 L1372.6 576.4 L1375.2 576.9 L1377.8 583.5 L1380.4 591.1 L1383.0 591.7 L1385.6 592.4 L1388.8 582.5 L1392.0 578.2 L1395.9 585.9 L1398.5 586.0 L1401.1 587.2 L1404.4 584.2 L1407.6 579.4 L1410.2 584.4 L1412.8 585.9 L1416.0 586.8 L1419.3 588.5 L1421.9 587.1 L1424.5 585.9 L1428.3 596.3 L1430.9 601.0 L1433.5 601.5 L1437.4 610.6 L1440.0 614.5 L1442.6 632.6 L1445.9 631.5 L1449.1 631.3 L1453.0 649.5 L1455.6 662.7 L1458.2 674.1 L1461.4 676.3 L1464.7 674.1 L1466.0 700.0 L1468.5 670.2 L1471.1 668.3 L1473.7 666.3 L1476.3 652.1 L1478.9 656.0 L1481.5 678.0 L1485.4 627.4 L1489.3 663.7 L1493.2 666.3 L1497.1 670.2 L1499.7 667.9 L1502.3 662.4 L1506.1 683.2 L1509.4 681.0 L1512.6 680.6 L1516.5 693.6 L1520.4 693.2 L1524.3 692.3 L1528.2 683.7 L1532.1 675.4 L1534.7 677.5 L1537.3 679.3 L1540.5 678.2 L1543.8 674.1 L1546.3 683.7 L1548.9 687.1 L1552.8 686.2 L1556.7 687.1 L1559.3 690.2 L1561.9 694.9 L1564.5 689.7 L1567.1 691.0 L1569.7 691.0 L1572.3 687.3 L1575.0 686.4 L1577.8 690.6 L1581.9 687.8 L1584.7 690.6 L1588.9 690.6 L1592.4 686.3 L1595.8 680.8 L1598.6 687.8 L1601.4 682.2 L1604.2 681.6 L1606.9 679.4 L1610.4 684.6 L1613.9 690.6 L1616.7 689.9 L1619.4 687.8 L1622.2 678.1 L1625.0 678.8 L1627.8 683.6 L1631.9 686.4 L1634.7 687.4 L1637.5 686.4 L1640.3 680.8 L1644.4 683.6 L1647.2 686.4 L1650.7 684.4 L1654.2 686.4 L1656.9 680.8 L1661.1 665.6 L1663.9 660.0 L1668.1 661.4 L1672.2 668.3 L1676.4 685.0 L1680.6 680.8 L1684.7 679.4 L1687.5 675.3 L1691.0 677.8 L1694.4 682.2 L1697.9 680.1 L1701.4 679.4 L1705.6 683.6 L1709.7 687.8 L1712.5 688.6 L1715.3 690.6 L1718.1 688.2 L1720.8 683.6 L1724.5 683.7 L1728.2 683.1 L1731.9 683.6 L1735.4 687.8 L1738.9 690.6 L1741.7 686.4 L1745.1 689.8 L1748.6 689.2 L1752.1 689.2 L1755.6 689.2 L1758.3 689.6 L1761.1 689.2 L1763.9 692.2 L1766.7 692.3 L1769.4 693.3 L1772.7 690.7 L1775.9 694.7 L1779.2 690.6 L1783.0 696.9 L1786.8 697.5" fill="none" stroke="#a9daf2" stroke-width="3.6" stroke-linejoin="round" stroke-linecap="butt"/>
<path d="M152.5 359.1 L155.7 361.2 L159.9 365.5 L164.2 363.4 L168.5 354.8 L172.8 346.3 L177.0 349.5 L181.3 347.4 L185.6 342.0 L189.8 337.8 L194.1 338.8 L198.4 345.2 L202.7 348.4 L206.9 348.4 L211.2 351.6 L215.5 351.6 L219.7 358.0 L221.9 367.7 L226.1 360.2 L230.4 354.8 L234.7 352.7 L237.9 348.4 L241.1 355.9 L245.4 358.0 L248.6 356.5 L251.8 360.2 L256.0 365.5 L260.3 369.8 L264.6 376.2 L268.9 380.5 L273.1 385.8 L277.4 376.2 L280.6 377.2 L283.8 378.3 L287.0 378.9 L290.2 378.3 L293.4 380.7 L296.6 380.5 L299.8 382.4 L303.0 382.6 L306.2 382.3 L309.4 382.6 L312.6 383.4 L315.8 386.9 L318.0 397.6 L322.2 401.8 L325.4 402.5 L328.6 402.9 L331.8 403.7 L335.1 401.8 L338.3 401.5 L341.5 404.0 L344.7 403.7 L347.9 406.1 L351.1 409.3 L354.3 412.5 L358.5 423.2 L361.7 424.9 L364.9 431.7 L368.2 435.7 L371.4 440.3 L375.6 438.1 L379.9 431.7 L384.2 438.1 L388.4 421.0 L392.7 421.0 L395.9 421.5 L399.1 423.2 L403.4 412.5 L406.6 406.7 L409.8 399.7 L413.0 396.6 L416.2 395.4 L419.4 384.7 L422.6 376.2 L425.8 371.4 L429.0 367.7 L431.7 364.4 L434.3 361.2 L437.0 367.9 L439.7 376.2 L444.0 369.8 L448.2 365.5 L452.5 374.1 L456.8 364.5 L460.0 367.1 L463.2 369.8 L466.4 371.8 L469.6 371.9 L473.9 378.3 L478.1 383.7 L481.3 385.7 L484.5 384.7 L488.8 406.1 L492.0 409.4 L495.2 408.2 L498.1 407.9 L500.9 409.1 L503.8 410.4 L506.6 407.1 L509.4 412.8 L512.3 410.4 L516.6 416.8 L520.8 425.3 L525.1 426.4 L529.4 421.0 L532.6 413.7 L535.8 408.2 L540.1 401.8 L544.3 412.5 L547.5 413.5 L550.7 414.6 L555.0 412.5 L558.0 414.6 L561.1 413.6 L564.1 416.9 L567.3 419.4 L570.6 420.7 L573.8 418.1 L577.0 415.6 L579.6 411.9 L582.2 413.0 L584.8 412.0 L587.4 410.4 L590.0 409.3 L592.6 405.2 L596.5 405.2 L599.1 419.4 L601.7 417.7 L604.3 420.7 L606.9 420.5 L609.5 418.2 L612.1 418.4 L614.6 418.2 L617.2 419.4 L619.8 419.4 L623.7 423.3 L626.3 427.2 L628.9 429.8 L631.5 431.5 L634.1 429.8 L638.0 425.9 L640.6 431.5 L643.2 437.6 L645.8 442.0 L648.4 444.1 L652.2 443.6 L656.1 444.1 L659.3 444.9 L662.5 442.7 L665.6 443.5 L668.8 445.8 L672.0 443.9 L675.2 443.0 L678.3 441.6 L681.5 441.9 L684.7 442.8 L688.6 445.6 L692.4 448.0 L695.0 451.1 L697.6 451.9 L700.9 451.6 L704.1 450.9 L707.4 449.4 L710.6 450.4 L713.8 447.3 L717.1 446.3 L720.3 447.3 L723.6 445.4 L727.0 442.4 L730.5 439.0 L733.9 436.3 L737.0 436.0 L740.0 436.8 L743.0 437.6 L746.4 438.7 L749.8 438.6 L753.2 436.8 L756.6 439.2 L760.0 438.9 L763.2 437.2 L766.5 435.0 L769.7 435.0 L773.0 437.6 L776.2 440.6 L779.4 441.5 L782.7 447.0 L785.9 453.2 L789.2 452.1 L792.4 451.9 L795.7 454.8 L798.9 455.8 L802.1 458.8 L805.4 458.3 L808.6 458.8 L811.9 460.9 L815.8 457.1 L818.3 456.3 L820.9 454.5 L823.5 452.7 L826.1 453.2 L829.4 455.5 L832.6 451.9 L835.2 446.7 L837.8 442.8 L840.4 441.1 L843.0 436.3 L845.6 438.7 L848.2 442.8 L851.2 445.1 L854.2 448.3 L857.2 446.7 L860.5 445.3 L863.7 450.6 L867.0 451.3 L870.2 453.2 L873.5 457.1 L876.7 459.6 L879.9 461.5 L883.2 462.7 L886.4 468.3 L889.7 467.4 L893.6 470.1 L897.4 472.6 L898.0 472.0 L902.0 478.0 L905.0 492.0 L907.9 490.4 L910.8 494.1 L913.7 493.5 L917.6 491.9 L921.5 494.8 L924.1 497.6 L926.7 497.4 L929.5 499.2 L932.2 502.7 L935.0 505.0 L938.3 509.0 L941.7 509.8 L945.0 512.0 L948.3 508.9 L951.7 507.1 L955.0 508.0 L958.3 512.2 L961.7 514.3 L965.0 516.0 L968.3 516.3 L971.7 519.8 L975.0 520.0 L978.3 517.3 L981.7 514.2 L985.0 510.0 L988.2 503.4 L991.5 502.6 L994.1 502.2 L996.7 502.6 L1000.2 506.4 L1003.6 508.8 L1007.1 510.4 L1011.0 510.2 L1014.9 507.8 L1017.4 502.0 L1020.0 502.6 L1022.6 500.9 L1025.2 498.7 L1027.8 501.3 L1030.4 502.6 L1033.0 507.2 L1035.6 505.2 L1040.0 513.3 L1043.9 511.5 L1047.8 512.0 L1050.4 516.8 L1053.0 522.4 L1056.9 527.6 L1060.7 525.0 L1063.3 520.5 L1065.9 515.9 L1068.5 517.7 L1071.1 517.2 L1074.4 517.9 L1077.6 519.8 L1081.5 514.6 L1085.4 518.7 L1089.3 519.8 L1091.9 527.2 L1094.5 536.7 L1098.3 544.5 L1100.9 535.4 L1104.2 535.1 L1107.4 534.1 L1110.0 536.0 L1112.6 539.3 L1116.5 539.5 L1120.4 539.3 L1123.0 539.7 L1125.6 541.9 L1128.2 543.7 L1130.8 549.6 L1133.4 553.7 L1136.0 554.8 L1138.5 552.6 L1141.1 549.6 L1144.4 549.6 L1147.6 550.9 L1150.9 546.7 L1154.1 541.9 L1156.7 536.7 L1159.3 528.9 L1161.9 530.2 L1164.5 534.1 L1167.1 535.2 L1169.7 536.7 L1173.7 537.3 L1177.8 536.5 L1181.4 530.7 L1184.9 523.2 L1188.5 517.2 L1191.3 511.7 L1194.2 513.2 L1197.0 508.7 L1200.6 505.6 L1204.1 501.6 L1207.7 498.0 L1210.6 501.2 L1213.4 505.5 L1216.2 508.7 L1219.1 503.9 L1221.9 498.8 L1224.8 495.9 L1227.6 494.9 L1230.5 495.1 L1233.3 495.9 L1236.5 500.4 L1239.7 506.6 L1243.3 505.1 L1246.9 507.4 L1250.4 506.6 L1253.3 496.3 L1256.1 490.3 L1259.0 480.9 L1261.8 478.2 L1264.7 478.5 L1267.5 476.7 L1271.8 487.3 L1275.0 487.0 L1278.2 483.3 L1281.4 480.0 L1284.6 478.8 L1287.4 477.4 L1290.3 476.1 L1293.1 474.5 L1296.0 475.8 L1298.8 480.9 L1301.7 485.2 L1305.4 490.4 L1309.1 494.5 L1312.8 500.0 L1315.4 502.6 L1318.7 502.7 L1321.9 503.5 L1325.1 503.6 L1328.4 502.6 L1331.0 505.7 L1333.6 506.5 L1336.6 506.8 L1339.6 505.2 L1342.6 505.2 L1345.9 507.8 L1349.1 510.4 L1351.7 513.9 L1354.3 518.2 L1356.9 514.5 L1359.5 511.7 L1362.1 505.6 L1364.7 500.0 L1367.3 490.4 L1370.0 485.4 L1373.9 494.5 L1377.8 488.0 L1381.7 488.0 L1385.6 490.6 L1388.2 493.4 L1390.7 497.1 L1393.3 500.9 L1395.9 504.8 L1399.2 504.9 L1402.4 507.4 L1405.0 509.3 L1407.6 511.3 L1410.2 519.1 L1412.8 517.8 L1415.4 515.2 L1418.0 516.9 L1420.6 519.1 L1423.2 517.3 L1425.8 510.0 L1429.6 517.8 L1432.9 515.7 L1436.1 520.4 L1438.7 524.3 L1442.6 513.9 L1445.2 513.0 L1447.8 512.6 L1451.0 510.2 L1454.3 512.6 L1456.9 525.6 L1460.8 530.8 L1463.8 532.0 L1466.8 534.2 L1469.8 530.8 L1473.7 536.0 L1476.3 543.7 L1480.2 542.4 L1482.8 538.5 L1485.4 541.1 L1488.6 542.6 L1491.9 543.7 L1495.8 545.7 L1499.7 546.3 L1502.3 550.5 L1504.9 555.4 L1507.4 555.5 L1510.0 554.1 L1512.6 547.9 L1515.2 547.6 L1517.8 545.5 L1520.4 541.1 L1523.0 552.8 L1526.2 553.3 L1529.5 552.8 L1532.1 551.5 L1534.7 550.2 L1538.6 569.7 L1542.5 577.4 L1545.0 569.5 L1547.6 563.2 L1550.2 562.1 L1552.8 559.3 L1555.4 560.0 L1558.0 561.9 L1561.3 562.8 L1564.5 563.2 L1567.1 568.4 L1569.7 574.9 L1572.3 571.7 L1575.0 574.4 L1578.5 580.7 L1581.9 586.9 L1586.1 582.8 L1589.6 583.0 L1593.1 582.8 L1595.8 575.4 L1598.6 566.1 L1601.4 565.0 L1604.2 566.1 L1606.9 566.1 L1611.1 578.6 L1613.9 578.0 L1616.7 575.8 L1620.8 570.3 L1624.3 569.8 L1627.8 568.9 L1631.9 580.0 L1634.7 581.6 L1637.5 580.0 L1640.3 589.5 L1643.1 593.9 L1645.8 613.3 L1650.0 599.4 L1654.2 598.1 L1656.9 606.6 L1659.7 617.5 L1662.5 608.8 L1665.3 605.0 L1668.8 605.4 L1672.2 603.6 L1676.4 580.0 L1679.2 550.8 L1683.3 546.7 L1687.5 552.2 L1691.7 530.0 L1694.4 532.7 L1697.2 531.4 L1700.0 531.2 L1702.8 528.6 L1705.6 543.6 L1708.3 556.4 L1711.8 555.6 L1715.3 556.4 L1718.1 560.3 L1720.8 566.1 L1725.0 524.4 L1727.8 511.9 L1731.9 511.9 L1735.4 522.1 L1738.9 530.0 L1741.7 518.4 L1744.4 509.2 L1747.2 507.5 L1750.0 510.6 L1753.5 517.6 L1756.9 527.2 L1761.1 520.3 L1763.9 519.4 L1766.7 511.9 L1769.4 519.3 L1772.2 521.7 L1775.0 518.7 L1777.8 517.5 L1781.9 525.8 L1786.8 513.3" fill="none" stroke="#c4eef0" stroke-width="3.6" stroke-linejoin="round" stroke-linecap="butt"/>
<path d="M152.5 469.1 L155.7 472.3 L159.9 474.4 L164.2 474.4 L168.5 478.7 L171.7 478.7 L176.0 503.3 L179.2 480.8 L183.4 476.6 L187.7 469.1 L190.9 480.8 L193.6 479.9 L196.2 480.8 L200.5 487.2 L204.8 480.8 L209.1 487.2 L213.3 493.6 L217.6 495.8 L221.9 485.1 L226.1 472.3 L229.3 469.4 L232.6 465.9 L236.8 461.6 L240.0 459.6 L243.2 459.5 L247.5 457.3 L251.8 459.5 L256.0 456.3 L260.3 459.5 L264.6 459.5 L268.9 457.3 L272.1 460.1 L275.3 459.5 L279.5 461.6 L283.8 472.3 L288.1 470.2 L292.3 461.6 L296.6 459.5 L300.9 433.9 L304.1 432.7 L307.3 431.7 L310.1 430.3 L313.0 433.4 L315.8 431.7 L319.0 432.0 L322.2 433.9 L325.4 435.2 L328.6 436.0 L332.9 428.5 L336.1 429.0 L339.3 429.6 L342.5 434.5 L345.7 440.3 L350.0 444.5 L352.1 468.0 L355.3 469.5 L358.5 470.2 L361.7 470.3 L364.9 472.3 L369.2 476.6 L372.4 476.3 L375.6 480.8 L379.9 476.6 L383.1 474.8 L386.3 478.7 L390.6 475.5 L393.8 473.8 L397.0 475.5 L400.2 472.9 L403.4 472.3 L407.7 468.0 L411.9 472.3 L416.2 478.7 L420.5 480.8 L424.7 489.4 L429.0 503.3 L432.2 502.7 L435.4 502.2 L438.3 501.5 L441.1 501.5 L444.0 500.1 L446.8 498.8 L449.7 496.2 L452.5 495.8 L455.7 492.7 L458.9 488.8 L462.1 489.2 L465.3 487.2 L468.5 493.2 L471.7 497.9 L474.9 501.3 L478.1 503.3 L481.0 503.5 L483.8 503.7 L486.7 504.3 L490.9 508.6 L495.2 487.2 L498.1 486.3 L500.9 483.0 L503.8 480.8 L506.6 480.4 L509.4 478.7 L512.3 476.6 L515.1 473.3 L518.0 471.1 L520.8 465.9 L523.7 464.4 L526.5 464.0 L529.4 463.8 L532.2 459.9 L535.1 457.0 L537.9 455.2 L541.1 455.6 L544.3 452.0 L547.5 455.9 L550.7 455.2 L555.0 453.2 L557.6 453.8 L560.2 454.5 L564.1 479.1 L568.0 470.0 L571.9 461.6 L574.4 462.0 L577.0 460.9 L580.9 453.8 L584.0 455.1 L587.0 454.4 L590.0 453.2 L592.6 457.3 L595.2 458.3 L599.1 466.1 L601.7 464.5 L604.3 466.1 L606.9 465.3 L609.5 466.1 L613.3 450.6 L616.6 453.8 L619.8 455.8 L623.7 454.5 L627.6 445.4 L630.2 448.5 L632.8 448.0 L635.4 447.5 L638.0 446.7 L641.9 445.6 L645.8 446.7 L648.4 462.2 L651.0 462.4 L653.5 463.5 L656.1 463.3 L658.7 464.8 L660.0 472.6 L662.6 468.9 L665.2 467.4 L669.1 468.7 L671.7 475.2 L674.3 477.8 L676.9 474.4 L679.5 472.6 L682.1 474.6 L684.7 476.5 L687.3 476.7 L689.9 471.3 L692.4 472.5 L695.0 470.7 L698.9 470.0 L701.5 469.2 L704.1 467.4 L706.7 475.2 L710.6 457.1 L714.5 450.6 L717.7 448.8 L721.0 449.3 L724.2 449.9 L727.5 447.7 L730.7 447.6 L734.0 445.1 L737.2 444.8 L740.5 442.9 L743.7 442.8 L747.0 443.0 L750.2 438.5 L753.5 439.4 L756.7 438.8 L760.0 437.6 L763.9 436.9 L767.8 437.6 L770.4 435.9 L773.0 435.0 L775.6 437.3 L778.2 437.6 L780.7 439.6 L783.3 436.3 L785.9 428.7 L788.5 419.4 L792.4 419.4 L795.0 416.3 L797.6 412.3 L801.5 423.3 L804.1 422.0 L806.7 424.6 L809.9 426.8 L813.2 424.0 L817.1 429.8 L820.9 437.6 L823.5 437.7 L826.1 437.6 L829.4 444.0 L832.6 450.6 L835.2 445.2 L837.8 442.8 L840.4 441.4 L843.0 440.2 L846.9 436.2 L850.8 435.0 L853.4 441.5 L856.0 442.9 L858.5 444.1 L862.4 462.2 L865.0 445.4 L867.6 448.6 L870.2 450.6 L873.5 453.9 L876.7 457.1 L880.0 463.7 L883.5 461.9 L886.9 458.3 L890.4 457.2 L893.6 463.0 L896.9 465.0 L899.4 466.1 L902.0 468.9 L904.6 464.6 L907.2 465.0 L911.1 452.0 L913.7 468.9 L916.3 487.1 L918.9 486.8 L921.5 487.1 L924.1 488.7 L926.7 492.2 L929.3 495.5 L931.9 501.3 L935.1 501.5 L938.3 502.6 L941.6 504.3 L944.8 505.2 L948.7 505.6 L952.6 509.1 L956.5 511.5 L960.4 514.3 L963.0 525.9 L965.6 533.7 L968.2 542.4 L970.8 549.3 L973.4 554.3 L976.0 559.7 L978.5 562.4 L981.1 564.9 L983.7 562.1 L986.3 559.7 L990.2 551.8 L994.1 544.1 L996.7 541.2 L999.3 536.3 L1002.3 541.0 L1005.4 545.9 L1008.6 544.8 L1011.9 549.8 L1014.5 559.5 L1017.1 569.3 L1020.9 558.9 L1024.8 569.3 L1027.4 568.1 L1030.0 569.3 L1033.3 569.5 L1036.5 568.0 L1040.0 573.0 L1042.6 574.8 L1045.2 578.2 L1047.8 580.3 L1050.4 582.1 L1053.0 582.3 L1055.6 576.9 L1058.2 574.2 L1060.7 574.3 L1064.6 565.2 L1067.2 568.9 L1069.8 575.6 L1073.7 571.7 L1077.6 574.3 L1080.8 576.3 L1084.1 582.1 L1088.0 593.7 L1090.6 591.9 L1093.2 596.3 L1095.8 598.4 L1098.3 605.4 L1100.9 592.9 L1103.5 579.5 L1106.1 578.6 L1108.7 579.5 L1112.0 573.2 L1115.2 571.7 L1117.8 583.4 L1120.4 573.7 L1123.0 567.8 L1125.6 553.5 L1128.2 562.1 L1130.8 569.1 L1133.4 561.3 L1137.2 559.7 L1141.1 560.0 L1143.7 547.1 L1147.6 557.4 L1151.5 554.8 L1154.1 551.8 L1156.7 549.6 L1159.3 551.4 L1161.9 552.2 L1165.0 551.9 L1167.6 562.2 L1170.2 562.1 L1172.8 558.3 L1175.4 561.5 L1178.0 559.6 L1180.6 562.9 L1183.2 563.5 L1187.0 564.8 L1189.6 563.1 L1192.2 560.9 L1194.8 565.1 L1197.4 568.7 L1201.3 571.7 L1205.2 570.0 L1209.1 562.2 L1211.7 560.9 L1214.3 555.8 L1216.9 553.4 L1219.5 551.9 L1222.1 544.1 L1224.6 547.3 L1227.2 549.3 L1229.8 549.0 L1232.4 548.0 L1235.0 551.3 L1237.6 554.5 L1240.2 563.5 L1242.8 573.9 L1246.0 574.1 L1249.3 577.8 L1252.5 572.6 L1255.8 568.7 L1259.7 597.2 L1263.5 597.2 L1266.1 585.5 L1268.7 577.8 L1271.3 581.3 L1273.9 581.7 L1277.2 583.0 L1280.4 583.0 L1283.0 586.6 L1285.6 593.4 L1288.8 591.9 L1292.1 586.9 L1295.3 589.3 L1298.6 589.5 L1301.8 588.3 L1305.0 592.1 L1307.6 583.0 L1310.2 585.4 L1312.8 583.0 L1315.4 589.2 L1318.0 593.4 L1320.6 594.1 L1323.2 589.5 L1325.8 587.9 L1328.4 589.5 L1331.0 595.3 L1333.6 599.8 L1336.2 597.2 L1338.8 593.4 L1341.3 593.6 L1343.9 593.4 L1347.2 597.5 L1350.4 601.1 L1353.7 602.5 L1356.9 601.1 L1360.1 596.0 L1363.4 594.7 L1366.7 595.2 L1370.0 598.9 L1372.6 596.4 L1375.2 597.6 L1377.8 596.2 L1380.4 596.3 L1383.0 593.7 L1386.9 598.9 L1390.1 597.5 L1393.3 597.6 L1396.6 600.0 L1399.8 601.5 L1403.1 602.5 L1406.3 602.8 L1409.5 603.5 L1412.8 604.1 L1416.0 600.6 L1419.3 598.9 L1421.9 597.0 L1424.5 596.3 L1427.1 587.2 L1429.6 589.8 L1432.2 589.8 L1435.3 589.1 L1438.3 586.5 L1441.3 584.6 L1444.6 582.3 L1447.8 580.7 L1451.0 581.5 L1454.3 578.2 L1457.5 574.8 L1460.8 573.0 L1464.0 571.2 L1467.2 567.8 L1469.8 567.3 L1472.4 563.9 L1473.7 560.0 L1477.6 546.3 L1480.9 546.0 L1484.1 546.3 L1487.3 541.6 L1490.6 534.7 L1494.5 528.2 L1497.7 523.5 L1501.0 521.7 L1504.9 530.8 L1508.7 533.4 L1511.3 525.6 L1513.9 526.2 L1516.5 524.3 L1519.1 521.9 L1521.7 519.1 L1525.6 546.3 L1528.8 539.1 L1532.1 536.0 L1536.0 543.7 L1538.6 539.4 L1541.2 533.4 L1543.8 531.6 L1546.3 532.1 L1548.9 525.3 L1551.5 515.2 L1555.4 520.4 L1558.0 518.9 L1560.6 519.1 L1563.2 526.0 L1565.8 533.4 L1569.7 520.4 L1572.3 520.0 L1575.0 518.9 L1577.8 517.1 L1580.6 516.1 L1583.3 517.8 L1586.1 518.9 L1588.9 510.6 L1591.7 509.8 L1594.4 510.6 L1597.9 502.2 L1601.4 510.6 L1604.2 517.5 L1607.6 517.7 L1611.1 516.1 L1613.9 520.3 L1616.7 518.9 L1619.4 523.1 L1622.9 523.8 L1626.4 524.4 L1630.6 525.8 L1633.3 513.3 L1636.1 512.2 L1638.9 510.6 L1641.7 507.0 L1644.4 510.6 L1647.2 520.3 L1650.0 521.3 L1652.8 519.4 L1655.6 518.9 L1658.3 513.1 L1661.1 511.9 L1665.3 511.9 L1668.8 512.8 L1672.2 513.3 L1675.0 502.2 L1677.8 486.9 L1681.9 484.2 L1686.1 471.7 L1690.3 457.8 L1693.1 461.2 L1695.8 463.3 L1700.0 452.2 L1702.8 456.4 L1705.6 457.8 L1708.3 449.4 L1711.1 471.7 L1712.5 480.0 L1713.9 488.3 L1716.7 486.9 L1719.4 488.3 L1722.2 488.3 L1725.0 484.2 L1727.8 492.5 L1730.6 507.8 L1733.3 509.7 L1736.1 511.9 L1739.6 510.9 L1743.1 503.6 L1747.2 499.4 L1751.4 500.8 L1755.6 514.7 L1758.3 509.7 L1761.1 505.0 L1764.6 505.2 L1768.1 503.6 L1770.8 511.9 L1775.0 514.7 L1776.4 530.0 L1779.9 530.2 L1783.3 531.4 L1786.8 528.6" fill="none" stroke="#4d9ec4" stroke-width="3.9" stroke-linejoin="round" stroke-linecap="butt"/>
<path d="M152.5 404.0 L155.7 399.7 L157.8 391.1 L162.1 389.0 L166.4 391.1 L169.6 399.7 L172.8 407.2 L177.0 408.2 L181.3 418.9 L185.6 412.5 L189.8 406.1 L193.0 403.6 L196.2 404.0 L199.5 397.6 L202.1 409.7 L204.8 418.9 L209.1 421.0 L212.3 422.2 L215.5 421.0 L218.7 404.0 L222.4 406.0 L226.1 404.0 L229.3 408.3 L232.6 410.4 L235.8 406.4 L239.0 404.0 L242.2 408.2 L245.4 416.8 L249.6 406.1 L252.8 405.8 L256.0 407.2 L259.2 407.9 L262.4 410.4 L266.7 410.4 L269.9 410.4 L273.1 412.5 L276.3 414.9 L279.5 415.7 L282.7 414.5 L285.9 412.5 L289.1 408.9 L292.3 406.1 L296.6 391.1 L299.8 389.2 L303.0 386.9 L307.3 385.8 L311.6 383.7 L313.7 380.5 L316.9 379.2 L320.1 378.3 L324.4 374.1 L327.6 373.8 L330.8 373.0 L334.0 373.4 L337.2 371.9 L340.4 371.6 L343.6 368.7 L346.8 367.3 L350.0 367.7 L354.3 359.1 L358.5 351.6 L362.8 359.1 L366.0 358.2 L369.2 361.2 L373.5 361.2 L377.8 369.8 L382.0 368.7 L386.3 361.2 L389.5 348.4 L392.7 349.8 L395.9 347.4 L398.6 344.8 L401.2 342.0 L405.5 341.0 L409.8 348.4 L414.1 347.4 L418.3 332.4 L422.6 326.0 L426.9 323.9 L431.1 324.9 L435.4 328.2 L438.6 329.1 L441.8 327.1 L446.1 334.6 L449.3 328.2 L452.5 326.0 L455.7 325.1 L458.9 324.9 L463.2 326.0 L467.4 347.4 L470.7 348.5 L473.9 349.5 L478.1 337.8 L482.4 335.6 L486.7 347.4 L490.9 349.5 L495.2 354.8 L499.5 348.4 L502.7 346.0 L505.9 347.4 L508.0 342.0 L512.3 348.4 L515.1 347.4 L518.0 348.7 L520.8 347.4 L523.7 348.4 L526.5 348.7 L529.4 346.3 L533.6 345.2 L536.8 347.3 L540.1 351.6 L543.3 346.6 L546.5 345.2 L549.3 345.1 L552.2 344.8 L555.0 342.7 L559.3 344.8 L563.5 340.6 L566.7 340.8 L569.9 340.6 L574.2 344.8 L578.5 355.5 L580.6 361.9 L583.5 359.9 L586.3 362.2 L589.2 360.9 L592.4 354.9 L595.6 347.0 L598.4 346.3 L601.3 343.5 L604.1 342.7 L608.4 351.2 L612.7 368.3 L615.9 367.7 L619.1 366.2 L623.3 364.1 L627.6 380.1 L630.8 380.6 L634.0 379.0 L637.2 375.1 L640.4 372.6 L644.7 368.3 L649.0 369.4 L653.2 385.4 L657.5 389.7 L660.3 386.6 L663.2 388.7 L666.0 387.6 L670.3 398.2 L673.2 400.3 L676.0 401.1 L678.9 402.5 L683.1 412.1 L686.6 405.8 L690.0 397.2 L693.9 397.2 L698.4 388.8 L701.7 397.9 L704.9 408.9 L709.4 410.2 L712.6 416.9 L715.9 425.1 L718.5 424.0 L721.1 423.1 L723.7 422.7 L726.3 423.1 L730.2 415.4 L732.8 413.4 L735.4 415.4 L738.0 427.0 L740.5 428.4 L743.1 428.3 L744.4 429.6 L745.1 419.9 L747.7 419.9 L750.3 418.7 L752.9 413.4 L756.8 414.1 L758.7 421.2 L761.3 423.1 L765.2 428.3 L767.8 423.8 L770.7 423.1 L773.6 423.1 L778.1 428.3 L782.0 432.2 L785.9 434.9 L789.8 432.2 L791.1 430.5 L793.7 434.1 L796.3 433.7 L799.5 434.7 L802.8 433.7 L805.4 433.8 L808.0 432.4 L811.9 428.5 L814.5 430.2 L817.1 427.2 L819.6 427.3 L822.2 427.9 L824.8 437.6 L827.4 448.0 L830.0 466.1 L832.6 467.3 L835.2 468.7 L837.8 467.3 L840.4 468.7 L843.0 470.3 L845.6 470.7 L848.2 473.4 L850.8 472.6 L854.7 483.0 L858.5 475.2 L861.1 475.9 L863.7 475.2 L866.3 475.1 L868.9 473.9 L872.8 496.0 L876.7 499.8 L879.9 499.6 L883.2 499.8 L885.2 498.7 L889.1 513.0 L891.7 522.3 L894.3 531.1 L898.2 533.7 L900.7 530.6 L903.3 531.1 L907.2 502.6 L911.1 498.7 L915.0 502.6 L917.6 523.4 L920.2 529.8 L923.4 526.7 L926.7 520.8 L929.3 521.5 L931.9 523.4 L934.5 530.4 L937.1 540.2 L939.6 537.9 L942.2 537.6 L944.8 534.6 L947.4 533.7 L950.0 526.4 L952.6 516.9 L955.2 519.5 L957.8 519.5 L961.7 517.7 L965.6 519.5 L969.5 528.5 L973.4 537.6 L976.0 539.5 L978.5 538.9 L981.1 537.5 L983.7 533.7 L986.3 529.1 L988.9 526.0 L991.5 516.2 L994.1 510.4 L996.7 503.6 L999.3 498.7 L1001.9 484.5 L1005.1 484.3 L1008.4 485.8 L1012.3 494.8 L1016.1 493.3 L1020.0 490.9 L1022.6 493.1 L1025.2 496.1 L1028.5 489.0 L1031.7 487.1 L1034.9 489.9 L1038.2 492.2 L1040.8 491.5 L1043.4 494.8 L1047.3 488.3 L1049.9 481.9 L1052.5 480.4 L1055.0 476.7 L1058.9 483.2 L1061.5 480.9 L1064.1 481.9 L1067.4 481.0 L1070.6 481.9 L1073.8 479.5 L1077.1 479.3 L1077.6 490.0 L1081.5 501.7 L1085.4 502.9 L1089.3 505.6 L1092.5 511.8 L1095.8 514.6 L1099.0 516.4 L1102.2 515.9 L1105.5 517.4 L1108.7 517.2 L1112.2 518.1 L1115.6 516.1 L1119.1 518.5 L1121.7 521.7 L1124.3 526.3 L1127.5 526.9 L1130.8 528.9 L1134.7 523.7 L1138.5 528.9 L1142.4 517.2 L1146.3 514.7 L1150.2 514.6 L1153.5 514.0 L1156.7 512.0 L1159.3 516.9 L1161.9 523.7 L1165.0 523.3 L1167.6 525.7 L1170.2 529.8 L1172.8 530.4 L1175.4 533.7 L1178.6 531.7 L1181.9 535.0 L1185.7 532.4 L1189.6 545.4 L1192.2 547.5 L1194.8 548.0 L1197.4 550.4 L1200.0 549.3 L1203.9 544.1 L1206.5 541.1 L1209.1 537.6 L1213.0 535.0 L1216.9 542.8 L1219.5 535.0 L1222.1 535.0 L1224.6 537.6 L1227.2 534.7 L1229.8 538.9 L1233.7 546.7 L1236.3 554.5 L1238.9 552.1 L1241.5 549.3 L1244.1 548.9 L1246.7 545.4 L1249.3 550.6 L1251.9 547.1 L1254.5 542.8 L1258.4 544.1 L1261.0 545.3 L1263.5 544.1 L1267.4 551.9 L1270.0 554.4 L1272.6 553.2 L1275.2 552.0 L1277.8 548.0 L1280.4 548.7 L1283.0 550.6 L1286.2 552.6 L1289.5 551.9 L1292.1 556.1 L1294.7 558.3 L1298.6 572.6 L1301.1 571.9 L1303.7 575.2 L1307.6 581.7 L1310.2 576.0 L1312.8 571.3 L1316.7 570.1 L1320.6 572.6 L1323.2 575.2 L1325.8 571.8 L1328.4 568.7 L1331.6 568.8 L1334.9 567.4 L1338.8 558.3 L1341.3 566.1 L1343.9 568.0 L1346.5 572.6 L1349.1 570.6 L1351.7 573.9 L1354.3 577.5 L1356.9 577.8 L1359.5 584.1 L1362.1 589.5 L1366.0 590.3 L1370.0 587.2 L1372.6 584.9 L1375.2 585.9 L1377.8 578.2 L1381.0 579.5 L1384.3 578.2 L1386.9 572.4 L1389.4 561.3 L1393.3 569.1 L1396.6 572.3 L1399.8 570.4 L1403.7 584.6 L1407.6 593.7 L1410.8 592.8 L1414.1 592.4 L1418.0 579.4 L1420.6 577.2 L1423.2 574.3 L1427.1 585.9 L1429.6 580.5 L1432.2 575.6 L1434.8 583.3 L1437.4 588.5 L1440.0 584.7 L1442.6 578.2 L1445.2 577.0 L1447.8 575.6 L1450.4 575.1 L1453.0 578.2 L1456.9 579.8 L1460.8 579.4 L1463.4 583.4 L1466.0 588.5 L1469.8 579.4 L1473.7 566.5 L1477.0 566.7 L1480.2 565.2 L1481.5 560.0 L1484.1 554.1 L1486.7 551.9 L1489.3 548.9 L1491.9 550.4 L1494.5 547.6 L1497.1 542.0 L1499.7 533.4 L1503.6 541.1 L1506.1 547.6 L1510.0 554.1 L1513.9 541.1 L1516.5 533.4 L1519.1 499.6 L1523.0 498.3 L1526.9 507.4 L1529.5 504.9 L1532.1 503.5 L1534.7 498.8 L1537.3 493.2 L1539.9 496.8 L1542.5 495.8 L1546.3 511.3 L1548.9 508.0 L1551.5 506.1 L1555.4 507.4 L1558.0 517.8 L1560.6 509.3 L1563.2 499.6 L1567.1 506.1 L1569.7 509.6 L1572.3 510.0 L1574.9 519.1 L1579.2 500.0 L1581.9 483.3 L1586.1 483.3 L1588.9 477.8 L1593.1 469.4 L1595.8 469.4 L1597.2 488.9 L1600.0 491.2 L1602.8 490.3 L1605.6 493.1 L1608.3 488.2 L1611.1 481.9 L1615.3 486.1 L1619.4 490.3 L1623.6 479.2 L1627.8 486.1 L1630.6 484.4 L1633.3 486.1 L1637.5 472.2 L1640.3 469.4 L1643.1 447.2 L1645.8 444.9 L1648.6 445.8 L1652.8 451.4 L1656.9 463.9 L1658.3 451.4 L1661.1 461.1 L1663.9 462.8 L1666.7 463.9 L1670.8 473.6 L1673.6 462.5 L1677.8 472.2 L1680.6 472.7 L1683.3 475.5 L1686.1 472.2 L1690.3 469.4 L1693.1 473.6 L1696.5 471.8 L1700.0 472.2 L1702.8 456.9 L1706.9 454.2 L1708.3 448.6 L1711.8 450.8 L1715.3 450.0 L1718.1 457.3 L1720.8 462.5 L1723.6 445.8 L1727.8 445.8 L1730.6 433.3 L1734.7 427.8 L1738.9 443.1 L1741.7 441.6 L1744.4 444.4 L1747.2 440.3 L1750.0 438.5 L1752.8 438.9 L1755.6 439.6 L1758.3 439.2 L1761.1 440.3 L1763.9 443.5 L1766.7 447.2 L1769.4 455.6 L1772.2 466.7 L1776.4 461.1 L1779.2 455.6 L1783.3 459.7 L1786.1 431.9" fill="none" stroke="#0a8294" stroke-width="4.3" stroke-linejoin="round" stroke-linecap="butt"/>
<path d="M152.5 373.0 L155.7 379.4 L159.9 384.7 L163.2 385.9 L166.4 385.8 L170.6 392.2 L172.8 375.1 L177.0 371.9 L181.3 368.7 L185.6 376.2 L189.8 371.9 L194.1 367.7 L197.3 367.1 L200.5 368.7 L204.8 371.9 L209.1 384.7 L213.3 386.9 L217.6 386.9 L218.7 402.9 L222.4 404.0 L226.1 404.0 L230.4 393.3 L234.7 391.1 L239.0 394.3 L242.2 394.1 L245.4 395.4 L248.6 395.8 L251.8 397.6 L256.0 400.8 L259.2 402.5 L262.4 402.9 L265.7 402.7 L268.9 404.0 L273.1 401.8 L276.3 401.1 L279.5 399.7 L282.7 400.7 L285.9 397.6 L289.1 398.1 L292.3 398.6 L295.5 399.0 L298.8 399.7 L303.0 397.6 L307.3 391.1 L311.6 397.6 L315.8 406.1 L320.1 413.6 L323.3 412.4 L326.5 409.3 L329.7 409.4 L332.9 410.4 L337.2 411.4 L340.4 413.9 L343.6 413.6 L346.8 410.8 L350.0 411.4 L353.2 411.7 L356.4 410.4 L358.5 407.2 L362.8 414.6 L366.0 419.3 L369.2 425.3 L373.5 433.9 L377.8 440.3 L382.0 444.5 L384.7 447.2 L387.4 452.0 L390.6 444.5 L394.8 438.1 L399.1 433.9 L402.3 435.1 L405.5 431.7 L409.8 425.3 L414.1 421.0 L418.3 423.2 L422.6 417.8 L426.9 427.4 L431.1 436.0 L435.4 431.7 L438.6 428.5 L441.8 427.4 L445.0 427.1 L448.2 422.1 L452.5 426.4 L456.8 436.0 L460.0 437.9 L463.2 438.1 L465.8 442.7 L468.5 443.5 L471.2 437.9 L473.9 434.9 L477.1 431.7 L480.3 425.3 L484.5 422.1 L487.7 425.1 L490.9 424.2 L494.1 419.3 L497.3 414.6 L501.6 408.2 L504.8 410.2 L508.0 412.5 L511.2 418.9 L514.4 418.9 L517.6 424.5 L520.8 429.6 L524.0 431.2 L527.2 433.9 L530.4 431.4 L533.6 430.7 L536.8 431.2 L540.1 430.7 L543.3 431.1 L546.5 430.7 L550.7 417.8 L555.0 416.9 L558.9 415.6 L562.8 425.9 L565.4 433.3 L568.0 440.2 L570.6 442.4 L573.2 440.2 L575.7 435.9 L578.3 432.4 L580.9 431.4 L583.5 429.2 L586.1 430.1 L588.7 427.2 L591.3 422.7 L595.2 428.5 L597.8 426.9 L600.4 427.9 L604.3 425.9 L608.2 419.4 L611.4 419.5 L614.6 416.9 L617.2 419.9 L619.8 418.2 L622.4 405.2 L626.3 403.9 L628.9 413.0 L631.5 420.7 L634.1 419.0 L636.7 420.7 L640.6 415.6 L644.5 418.2 L648.4 415.6 L651.0 410.9 L653.5 409.1 L657.4 416.9 L660.0 415.8 L662.6 417.5 L665.2 416.1 L667.8 419.4 L670.4 423.3 L673.0 425.9 L675.6 422.2 L678.2 423.3 L681.4 424.6 L684.7 424.6 L688.6 429.8 L691.1 433.0 L693.7 432.4 L697.0 431.3 L700.2 434.4 L702.8 433.0 L705.4 432.4 L708.0 428.5 L710.6 426.7 L713.2 429.8 L716.4 430.8 L719.7 429.8 L722.9 430.8 L726.2 433.7 L730.0 435.3 L733.9 437.6 L736.5 440.2 L739.8 440.9 L743.0 441.5 L746.3 442.8 L749.5 442.8 L753.0 441.9 L756.5 441.9 L760.0 441.5 L762.6 442.1 L765.2 444.1 L767.8 445.5 L770.4 446.7 L773.0 446.5 L775.6 449.3 L778.2 448.7 L780.7 448.0 L783.3 445.5 L785.9 448.0 L788.5 446.7 L791.1 446.7 L795.0 441.5 L797.6 443.3 L800.2 440.2 L802.8 439.0 L805.4 437.6 L809.3 438.9 L813.2 442.8 L817.1 444.1 L819.6 441.8 L822.2 442.8 L826.1 440.2 L830.0 435.7 L832.6 437.0 L835.2 437.6 L837.8 436.7 L840.4 438.3 L844.3 445.4 L846.9 444.5 L849.5 448.0 L852.1 448.3 L854.7 450.6 L857.9 452.2 L861.1 451.9 L865.0 445.4 L868.9 450.6 L871.5 450.4 L874.1 449.3 L878.0 448.0 L881.9 454.5 L882.6 461.1 L886.5 461.6 L890.4 462.4 L894.3 481.9 L896.9 482.6 L899.4 485.8 L902.7 485.0 L905.9 487.1 L908.5 490.1 L911.1 489.6 L914.4 490.0 L917.6 489.6 L920.2 487.1 L922.8 487.1 L925.4 497.4 L929.3 502.6 L933.2 500.5 L937.1 503.9 L940.9 510.4 L944.8 524.7 L947.4 524.2 L950.0 527.2 L952.6 528.5 L955.2 523.4 L957.8 525.8 L960.4 531.1 L963.0 532.3 L965.6 533.7 L969.5 541.5 L973.4 559.7 L976.0 565.1 L978.5 570.0 L981.1 569.8 L983.7 570.0 L987.6 553.2 L991.5 515.6 L994.1 515.2 L996.7 515.6 L999.3 519.6 L1001.9 527.2 L1005.8 557.1 L1009.7 549.3 L1012.3 544.0 L1014.9 541.5 L1017.4 537.2 L1020.0 528.5 L1022.6 525.6 L1025.2 524.7 L1027.8 531.6 L1030.4 536.3 L1033.0 539.3 L1035.6 546.7 L1040.0 535.4 L1042.6 526.6 L1045.2 518.5 L1047.8 511.7 L1050.4 504.3 L1053.6 503.0 L1056.9 499.1 L1059.4 502.2 L1062.0 508.2 L1064.6 511.5 L1067.2 513.3 L1069.8 512.5 L1072.4 510.7 L1075.0 507.2 L1077.6 505.6 L1080.2 508.1 L1082.8 509.4 L1086.0 508.9 L1089.3 510.7 L1091.9 509.1 L1094.5 509.4 L1097.7 512.0 L1100.9 514.6 L1103.5 511.1 L1106.1 514.6 L1110.0 527.5 L1113.9 540.6 L1117.8 531.5 L1121.0 530.2 L1124.3 531.5 L1127.5 534.8 L1130.8 541.9 L1133.4 536.8 L1136.0 532.8 L1139.8 537.7 L1143.7 540.6 L1147.0 540.0 L1150.2 540.6 L1152.8 534.4 L1155.4 525.0 L1158.6 515.1 L1161.9 508.2 L1165.0 507.8 L1167.6 517.1 L1170.2 529.8 L1172.8 532.5 L1175.4 531.1 L1179.3 530.3 L1183.2 528.5 L1187.0 520.7 L1190.9 514.8 L1194.8 506.5 L1198.7 505.2 L1202.6 503.9 L1205.2 516.4 L1207.8 531.1 L1211.0 529.6 L1214.3 525.9 L1216.9 523.7 L1219.5 520.7 L1222.1 519.4 L1224.6 526.8 L1227.2 532.4 L1229.8 530.5 L1232.4 528.5 L1235.0 528.1 L1237.6 524.6 L1241.5 527.0 L1245.4 531.1 L1248.0 522.0 L1251.2 515.0 L1254.5 510.4 L1257.1 504.6 L1259.7 502.6 L1262.9 504.8 L1266.1 503.9 L1268.7 501.0 L1271.3 500.0 L1274.3 494.4 L1277.3 490.3 L1280.3 487.3 L1284.6 493.8 L1288.9 485.2 L1291.7 486.1 L1294.5 486.4 L1297.4 489.5 L1301.7 455.3 L1305.9 461.7 L1309.1 454.9 L1312.3 448.9 L1315.5 447.0 L1318.8 446.8 L1322.0 452.5 L1325.2 459.6 L1328.4 464.7 L1331.6 472.4 L1335.1 474.6 L1338.7 476.1 L1342.2 478.8 L1345.4 480.0 L1348.6 480.9 L1352.9 472.4 L1355.8 472.0 L1358.6 471.4 L1361.5 470.3 L1364.3 467.7 L1367.2 470.1 L1370.0 471.1 L1373.9 464.6 L1376.5 471.1 L1380.4 462.0 L1384.3 472.4 L1386.9 470.7 L1389.4 471.1 L1392.0 476.0 L1394.6 478.9 L1397.2 488.0 L1401.1 485.3 L1405.0 486.7 L1408.9 478.9 L1411.5 472.8 L1414.1 468.5 L1416.7 468.1 L1419.3 468.5 L1423.2 477.6 L1427.1 465.9 L1430.3 464.8 L1433.5 464.6 L1436.1 469.2 L1438.7 471.1 L1442.6 463.3 L1445.2 456.9 L1447.8 455.0 L1450.4 454.3 L1454.3 450.4 L1458.2 446.5 L1460.8 438.7 L1464.7 438.0 L1468.5 434.8 L1472.4 438.7 L1475.0 447.8 L1477.6 438.7 L1480.6 435.5 L1483.7 433.8 L1486.7 434.8 L1490.6 437.0 L1494.5 436.1 L1497.7 439.9 L1501.0 442.6 L1504.9 438.7 L1506.7 425.4 L1509.5 425.3 L1512.4 424.2 L1515.2 423.3 L1519.5 406.2 L1522.7 406.3 L1525.9 403.5 L1529.1 405.8 L1532.3 404.1 L1535.1 395.5 L1538.0 389.7 L1540.8 380.6 L1544.0 382.8 L1547.2 384.8 L1550.4 393.0 L1553.6 406.2 L1556.5 399.5 L1559.3 397.7 L1562.2 391.2 L1566.5 381.6 L1569.3 381.6 L1572.2 381.3 L1575.0 381.9 L1577.8 390.3 L1580.6 394.4 L1582.6 406.9 L1584.7 400.0 L1587.5 401.2 L1590.3 401.3 L1593.1 402.8 L1597.2 394.4 L1601.4 402.8 L1604.2 402.8 L1606.9 404.2 L1609.7 413.9 L1613.9 412.5 L1616.7 419.4 L1620.1 420.3 L1623.6 420.8 L1627.8 423.6 L1630.6 419.4 L1633.3 402.8 L1636.1 401.4 L1638.9 402.3 L1641.7 402.8 L1644.4 406.9 L1648.6 395.8 L1652.8 394.4 L1655.6 394.3 L1658.3 390.3 L1661.1 387.5 L1662.5 400.0 L1665.3 379.2 L1668.1 379.2 L1670.8 379.2 L1672.2 369.4 L1675.0 368.1 L1679.2 375.0 L1681.9 384.7 L1686.1 386.1 L1690.3 397.2 L1694.4 394.4 L1697.2 397.6 L1700.0 395.8 L1704.2 397.2 L1708.3 413.9 L1712.5 398.6 L1715.3 400.3 L1718.1 397.2 L1719.4 388.9 L1722.2 388.3 L1725.0 383.3 L1727.8 395.8 L1730.6 397.2 L1733.3 395.8 L1736.1 390.3 L1740.3 388.9 L1744.4 395.8 L1747.2 396.0 L1750.0 395.8 L1752.8 387.5 L1756.2 393.2 L1759.7 398.6 L1762.5 397.7 L1765.3 397.2 L1768.1 391.7 L1772.2 394.4 L1775.0 408.3 L1777.8 406.7 L1780.6 406.9 L1783.3 400.0 L1786.1 387.5" fill="none" stroke="#2ea9e1" stroke-width="4.6" stroke-linejoin="round" stroke-linecap="butt"/>
<path d="M152.5 468.0 L155.7 459.5 L158.9 448.8 L162.1 455.2 L166.4 453.1 L170.6 440.3 L174.9 438.1 L178.1 438.0 L181.3 438.1 L185.6 418.9 L189.8 414.6 L192.0 423.2 L196.2 413.6 L200.5 414.6 L204.8 440.3 L209.1 425.3 L213.3 434.9 L217.6 412.5 L221.9 394.3 L226.1 401.8 L230.4 406.1 L234.7 397.6 L239.0 410.4 L243.2 405.0 L247.5 410.4 L249.6 401.8 L251.8 416.8 L256.0 438.1 L260.3 436.0 L264.6 432.8 L266.7 446.7 L271.0 430.7 L273.7 430.4 L276.3 431.7 L279.5 448.8 L283.8 450.9 L287.0 454.1 L290.2 453.1 L294.5 457.3 L298.8 457.3 L303.0 450.9 L307.3 452.0 L311.6 465.9 L315.8 474.4 L320.1 478.7 L324.4 472.3 L328.6 487.2 L332.9 476.6 L336.1 476.7 L339.3 475.5 L342.5 489.3 L345.7 504.3 L350.0 509.7 L353.2 507.2 L356.4 509.7 L360.7 515.0 L363.9 513.9 L367.1 512.9 L371.4 512.9 L375.6 521.4 L379.9 515.0 L383.1 513.9 L386.3 513.9 L389.5 507.2 L392.7 503.3 L397.0 495.8 L401.2 495.8 L405.5 497.9 L409.8 502.2 L414.1 506.5 L418.3 506.5 L422.6 491.5 L426.9 486.2 L430.1 485.2 L433.3 487.2 L437.6 481.9 L440.8 481.1 L444.0 486.2 L448.2 487.2 L452.5 495.8 L456.8 512.9 L461.0 497.9 L465.3 491.5 L469.6 487.2 L472.8 484.8 L476.0 480.8 L479.2 479.7 L482.4 478.7 L484.5 468.0 L487.7 472.4 L490.9 470.2 L494.1 469.6 L497.3 469.1 L501.6 467.0 L505.9 468.0 L510.2 474.4 L514.4 470.2 L517.6 474.8 L520.8 479.8 L524.0 482.2 L527.2 480.8 L531.5 487.2 L534.7 490.1 L537.9 492.6 L541.1 491.2 L544.3 489.4 L548.6 476.6 L551.8 470.9 L555.0 466.1 L557.6 464.7 L560.2 464.8 L562.8 470.0 L565.4 471.3 L569.3 479.1 L571.9 478.1 L574.4 474.6 L577.0 480.0 L579.6 481.0 L582.7 479.9 L585.7 479.8 L588.7 479.1 L592.6 463.5 L595.8 459.1 L599.1 457.1 L603.0 457.0 L606.9 454.5 L609.5 462.2 L612.1 437.6 L615.9 442.8 L619.8 444.1 L623.7 428.5 L627.6 437.6 L630.2 432.4 L634.1 431.6 L638.0 434.4 L641.2 429.6 L644.5 423.3 L647.1 427.4 L649.7 428.5 L652.2 429.7 L654.8 427.2 L658.7 432.4 L662.6 445.4 L665.9 445.1 L669.1 447.3 L671.7 450.4 L674.3 450.6 L678.2 448.0 L681.4 447.0 L684.7 448.0 L687.3 455.4 L689.9 464.8 L692.4 455.8 L695.0 453.4 L697.6 454.5 L701.5 454.5 L704.1 453.4 L706.7 449.3 L710.6 451.7 L714.5 449.9 L717.7 441.0 L721.0 433.7 L723.6 437.9 L726.2 444.1 L730.0 448.0 L733.3 459.2 L736.5 471.3 L740.4 454.5 L743.7 455.8 L746.9 450.6 L750.8 457.1 L753.4 468.1 L756.0 476.5 L760.0 476.5 L762.6 473.9 L765.2 472.6 L767.8 470.9 L770.4 473.9 L773.0 473.0 L775.6 473.9 L778.2 476.1 L780.7 475.2 L784.6 464.8 L788.5 458.3 L791.8 457.5 L795.0 451.9 L798.9 458.3 L802.8 468.7 L806.0 469.0 L809.3 470.0 L813.2 468.7 L815.8 472.4 L818.3 477.8 L820.9 478.4 L823.5 480.4 L827.4 477.8 L830.0 483.0 L832.6 477.3 L835.2 476.5 L837.8 476.4 L840.4 473.9 L843.0 470.6 L845.6 470.0 L849.5 473.9 L852.1 477.8 L854.7 480.5 L857.2 480.4 L861.1 490.8 L863.7 501.1 L866.3 512.8 L867.6 523.2 L870.2 521.0 L872.8 523.2 L876.7 510.2 L880.0 503.9 L882.6 504.2 L885.2 507.8 L888.4 512.7 L891.7 516.9 L895.6 510.4 L898.2 510.7 L900.7 513.0 L903.3 516.6 L905.9 518.2 L908.5 518.8 L911.1 519.5 L913.7 519.2 L916.3 522.1 L918.9 522.2 L921.5 520.8 L925.4 518.0 L929.3 513.0 L931.9 509.9 L934.5 511.7 L938.3 520.8 L940.9 527.7 L943.5 529.8 L946.1 531.8 L948.7 532.4 L951.3 535.4 L953.9 536.3 L957.2 534.6 L960.4 537.6 L963.6 539.3 L966.9 542.8 L970.8 536.3 L973.4 532.0 L976.0 528.5 L979.2 529.9 L982.4 528.5 L985.7 524.1 L988.9 523.4 L991.5 523.5 L994.1 526.0 L997.3 525.3 L1000.6 529.8 L1004.5 513.0 L1007.1 505.2 L1009.7 503.6 L1012.3 502.6 L1014.9 499.2 L1017.4 494.8 L1020.7 490.7 L1023.9 490.9 L1027.2 490.2 L1030.4 490.9 L1033.0 495.5 L1035.6 498.7 L1039.5 492.2 L1043.4 489.6 L1046.0 479.3 L1049.9 474.7 L1052.5 476.5 L1055.0 474.1 L1057.6 473.7 L1060.2 471.5 L1062.8 470.4 L1065.4 470.2 L1069.3 459.8 L1071.9 458.3 L1074.5 459.8 L1077.1 468.9 L1081.6 453.3 L1085.0 468.7 L1088.9 467.5 L1092.8 468.7 L1095.4 453.2 L1098.4 452.3 L1101.4 453.4 L1104.4 453.2 L1107.0 455.7 L1109.6 458.3 L1112.2 459.2 L1114.8 455.8 L1118.1 456.8 L1121.3 457.1 L1123.9 471.3 L1126.5 470.6 L1129.1 472.6 L1133.0 483.0 L1135.6 484.3 L1138.2 481.7 L1142.1 476.5 L1144.6 481.0 L1147.2 483.0 L1149.8 484.4 L1152.4 485.6 L1155.0 479.1 L1158.9 473.9 L1161.5 465.2 L1164.1 458.3 L1167.1 455.9 L1170.1 457.0 L1173.2 458.3 L1175.8 444.1 L1178.4 440.2 L1181.0 443.3 L1183.5 444.1 L1187.4 436.3 L1190.0 435.3 L1192.6 436.3 L1196.5 432.4 L1200.4 435.0 L1201.7 444.1 L1204.3 439.8 L1206.9 438.9 L1210.8 436.3 L1213.4 436.6 L1216.0 436.3 L1219.9 425.9" fill="none" stroke="#12354e" stroke-width="4.6" stroke-linejoin="round" stroke-linecap="butt"/>
<g id="xl" font-size="25" fill="#000" text-anchor="end">
<text transform="translate(162.8 882) rotate(-90)">-12</text>
<text transform="translate(229.9 882) rotate(-90)">-11</text>
<text transform="translate(298.8 882) rotate(-90)">-10</text>
<text transform="translate(366.6 882) rotate(-90)">-9</text>
<text transform="translate(435.3 882) rotate(-90)">-8</text>
<text transform="translate(505.1 882) rotate(-90)">-7</text>
<text transform="translate(571.8 882) rotate(-90)">-6</text>
<text transform="translate(641.6 882) rotate(-90)">-5</text>
<text transform="translate(710.5 882) rotate(-90)">-4</text>
<text transform="translate(778.0 882) rotate(-90)">-3</text>
<text transform="translate(847.3 882) rotate(-90)">-2</text>
<text transform="translate(910.3 882) rotate(-90)">-1</text>
<text transform="translate(979.5 882) rotate(-90)">0</text>
<text transform="translate(1046.3 882) rotate(-90)">1</text>
<text transform="translate(1116.3 882) rotate(-90)">2</text>
<text transform="translate(1183.3 882) rotate(-90)">3</text>
<text transform="translate(1252.0 882) rotate(-90)">4</text>
<text transform="translate(1321.3 882) rotate(-90)">5</text>
<text transform="translate(1388.3 882) rotate(-90)">6</text>
<text transform="translate(1457.3 882) rotate(-90)">7</text>
<text transform="translate(1524.9 882) rotate(-90)">8</text>
<text transform="translate(1594.3 882) rotate(-90)">9</text>
<text transform="translate(1664.1 882) rotate(-90)">10</text>
<text transform="translate(1726.3 882) rotate(-90)">11</text>
<text transform="translate(1795.8 882) rotate(-90)">12</text>
</g>
<text x="384.5" y="943.6" font-size="26" fill="#000" textLength="272" lengthAdjust="spacingAndGlyphs">Months <tspan fill="#0675ab">Before</tspan> First Cut</text>
<text x="1151.4" y="943.6" font-size="26" fill="#000" textLength="254" lengthAdjust="spacingAndGlyphs">Months <tspan fill="#0675ab">After</tspan> First Cut</text>
<text x="1232" y="426.5" font-size="24" fill="#000" textLength="86" lengthAdjust="spacingAndGlyphs">Current</text>
<g font-size="25">
<text x="1803" y="399.2" fill="#2aa8e0" textLength="56" lengthAdjust="spacingAndGlyphs">1998</text>
<text x="1803" y="442.8" fill="#0b7f8f" textLength="56" lengthAdjust="spacingAndGlyphs">1995</text>
<text x="1803" y="513.3" fill="#c9eef2" textLength="56" lengthAdjust="spacingAndGlyphs">2001</text>
<text x="1803" y="538.7" fill="#0a6f9e" textLength="56" lengthAdjust="spacingAndGlyphs">1989</text>
<text x="1803" y="640.8" fill="#e2edb4" textLength="56" lengthAdjust="spacingAndGlyphs">1987</text>
<text x="1803" y="663.7" fill="#1b6e73" textLength="56" lengthAdjust="spacingAndGlyphs">2007</text>
<text x="1803" y="707.5" fill="#23a6e0" textLength="56" lengthAdjust="spacingAndGlyphs">2019</text>
<text x="1803" y="770.8" fill="#c5d5df" textLength="56" lengthAdjust="spacingAndGlyphs">1984</text>
</g>
<g font-size="20" fill="#000">
<text x="45" y="995.8" textLength="1844" lengthAdjust="spacingAndGlyphs">Source: Bloomberg, iCapital Investment Strategy with data based on availability as of Jan. 8, 2025. Note: Analysis is run on the last four (9) rate cutting cycles including 1984, 1987, 1989, 1995, 1998,</text>
<text x="45" y="1020.8" textLength="1843" lengthAdjust="spacingAndGlyphs">2001, 2007, 2019 and 2024. We define the start of a cutting cycle as being when the FOMC first begins cutting rates following a hiking and holding cycle. Data is subject to change based on potential</text>
<text x="45" y="1046.6" textLength="1338" lengthAdjust="spacingAndGlyphs">updates to source(s) database. For illustrative purposes only. Past performance is not indicative of future results. Future results are not guaranteed.</text>
</g>
</svg>
</body></html>
